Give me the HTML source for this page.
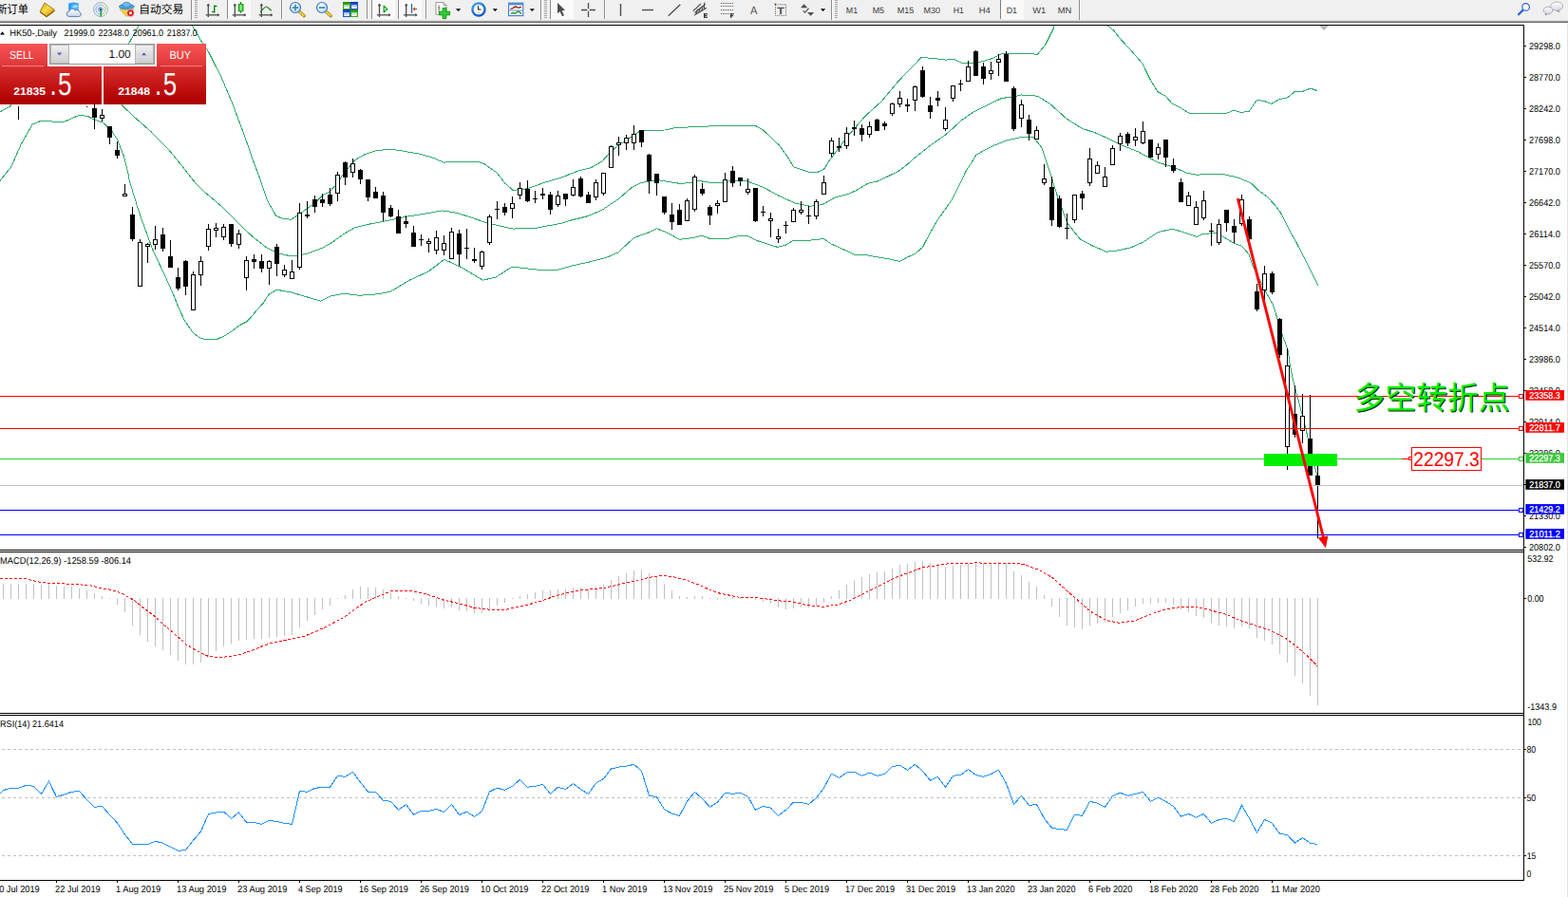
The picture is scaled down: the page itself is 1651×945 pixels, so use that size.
<!DOCTYPE html><html><head><meta charset="utf-8"><title>chart</title><style>html,body{margin:0;padding:0;background:#fff;overflow:hidden}svg{display:block}</style></head><body><svg width="1651" height="945" viewBox="0 0 1651 945" font-family="'Liberation Sans', sans-serif" text-rendering="geometricPrecision">
<defs><linearGradient id="gSell" x1="0" y1="0" x2="0" y2="1"><stop offset="0" stop-color="#f85656"/><stop offset="1" stop-color="#de3434"/></linearGradient><linearGradient id="gBig" x1="0" y1="0" x2="0" y2="1"><stop offset="0" stop-color="#d83030"/><stop offset="0.75" stop-color="#b80808"/><stop offset="1" stop-color="#ac0000"/></linearGradient><linearGradient id="gBtn" x1="0" y1="0" x2="0" y2="1"><stop offset="0" stop-color="#f2f2f2"/><stop offset="0.5" stop-color="#dcdcdc"/><stop offset="1" stop-color="#cfcfcf"/></linearGradient><linearGradient id="gTb" x1="0" y1="0" x2="0" y2="1"><stop offset="0" stop-color="#f0f0f0"/><stop offset="0.35" stop-color="#a0a0a0"/><stop offset="0.7" stop-color="#6a6a6a"/><stop offset="1" stop-color="#ffffff"/></linearGradient><clipPath id="cMain"><rect x="0" y="27" width="1604" height="552"/></clipPath></defs>
<rect x="0" y="0" width="1651" height="945" fill="#fff" />
<rect x="0" y="0" width="1651" height="22" fill="#f0f0f0" />
<g shape-rendering="crispEdges">
<rect x="0" y="21" width="1651" height="1" fill="#dedede" />
<rect x="0" y="22" width="1651" height="1" fill="#a2a2a2" />
<rect x="0" y="23" width="1651" height="1" fill="#6c6c6c" />
<rect x="0" y="24" width="1651" height="1" fill="#f6f6f6" />
<rect x="0" y="25" width="1651" height="1" fill="#fff" />
</g>
<text x="-3.6" y="14.4" font-size="12.2" fill="#000" textLength="33.6" lengthAdjust="spacingAndGlyphs" font-family="'Liberation Sans', 'Noto Sans CJK SC', sans-serif">新订单</text>
<defs><linearGradient id="gBook" x1="0" y1="0" x2="1" y2="1"><stop offset="0" stop-color="#c89020"/><stop offset="0.45" stop-color="#ffe040"/><stop offset="1" stop-color="#b07818"/></linearGradient><linearGradient id="gCloud" x1="0" y1="0" x2="0" y2="1"><stop offset="0" stop-color="#ffffff"/><stop offset="1" stop-color="#c8d4ec"/></linearGradient><radialGradient id="gLens" cx="0.4" cy="0.35" r="0.7"><stop offset="0" stop-color="#ffffff"/><stop offset="1" stop-color="#b8d8f4"/></radialGradient><linearGradient id="gCandle" x1="0" y1="0" x2="1" y2="0"><stop offset="0" stop-color="#18b818"/><stop offset="0.5" stop-color="#8cff8c"/><stop offset="1" stop-color="#18b818"/></linearGradient><radialGradient id="gClock" cx="0.4" cy="0.3" r="0.8"><stop offset="0" stop-color="#58b8ff"/><stop offset="1" stop-color="#0848b8"/></radialGradient><linearGradient id="gBub" x1="0" y1="0" x2="0" y2="1"><stop offset="0" stop-color="#ffffff"/><stop offset="1" stop-color="#d4d6ea"/></linearGradient></defs>
<path d="M47,3 L57.3,10.2 L56.8,12 L49,17.8 L42,12.2 Z" fill="url(#gBook)" stroke="#a06c14" stroke-width="0.8" stroke-linejoin="round"/>
<path d="M42.2,12.6 L49,17.6 L57.2,11.2" fill="none" stroke="#94600e" stroke-width="1.3" stroke-linejoin="round"/>
<path d="M72.2,3.4 L78,2.4 L82.6,3.6 L82.6,11.5 L72.2,11.5 Z" fill="#1e9cff"/>
<path d="M75.2,4.6 L82.6,3.6 L82.6,11.5 L75.2,11.5 Z" fill="#58b8ff"/>
<path d="M77,6.6 L81.6,6 L81.6,7.2 L77,7.8 Z" fill="#eaf6ff"/>
<path d="M72.6,17.4 a2.6,2.6 0 0 1 0.2,-5.2 a3.4,3.4 0 0 1 6.4,-1.2 a3,3 0 0 1 4.6,1.8 a2.4,2.4 0 0 1 -0.4,4.6 Z" fill="url(#gCloud)" stroke="#5474ac" stroke-width="0.9"/>
<g fill="none" stroke-width="0.9" opacity="0.75"><path d="M106,2.6 A7.4,7.4 0 0 0 106,17.4" stroke="#4f7fe0" opacity="0.9"/><path d="M106,5 A5,5 0 0 0 106,15" stroke="#4f7fe0" opacity="0.9"/><path d="M106,7.4 A2.6,2.6 0 0 0 106,12.6" stroke="#4f7fe0"/><path d="M106,2.6 A7.4,7.4 0 0 1 106,17.4" stroke="#5aa868" opacity="0.9"/><path d="M106,5 A5,5 0 0 1 106,15" stroke="#5aa868" opacity="0.8"/><path d="M106,7.4 A2.6,2.6 0 0 1 106,12.6" stroke="#5aa868" opacity="0.7"/></g>
<path d="M106,10 A7.4,7.4 0 0 1 106,17.4 Z" fill="#6ab878" opacity="0.55"/>
<path d="M106.3,10 V17.6" stroke="#18a028" stroke-width="1.5"/>
<circle cx="106" cy="9.8" r="1.6" fill="#2458d0"/>
<path d="M126,9.6 L140.8,9.6 L140,12 L133,17.4 Z" fill="#f2d23c" stroke="#c8a020" stroke-width="0.6"/>
<ellipse cx="133.3" cy="7" rx="7.9" ry="2.7" fill="#4aa0dc" stroke="#2878b8" stroke-width="0.7"/>
<ellipse cx="133.3" cy="5" rx="4" ry="2.8" fill="#6cb8ec" stroke="#2878b8" stroke-width="0.6"/>
<circle cx="137.4" cy="13.7" r="3.9" fill="#d81c10" stroke="#fff" stroke-width="0.6"/>
<rect x="136.1" y="12.4" width="2.7" height="2.7" fill="#fff" />
<text x="146.2" y="14.4" font-size="12.2" fill="#000" textLength="47.2" lengthAdjust="spacingAndGlyphs" font-family="'Liberation Sans', 'Noto Sans CJK SC', sans-serif">自动交易</text>
<rect x="201" y="0" width="1" height="22" fill="#8c8c8c" shape-rendering="crispEdges"/>
<rect x="202" y="0" width="1" height="22" fill="#fbfbfb" shape-rendering="crispEdges"/>
<g shape-rendering="crispEdges">
<rect x="205" y="0" width="3" height="1" fill="#a6a6a6" />
<rect x="205" y="2" width="3" height="1" fill="#a6a6a6" />
<rect x="205" y="4" width="3" height="1" fill="#a6a6a6" />
<rect x="205" y="6" width="3" height="1" fill="#a6a6a6" />
<rect x="205" y="8" width="3" height="1" fill="#a6a6a6" />
<rect x="205" y="10" width="3" height="1" fill="#a6a6a6" />
<rect x="205" y="12" width="3" height="1" fill="#a6a6a6" />
<rect x="205" y="14" width="3" height="1" fill="#a6a6a6" />
<rect x="205" y="16" width="3" height="1" fill="#a6a6a6" />
<rect x="205" y="18" width="3" height="1" fill="#a6a6a6" />
</g>
<g stroke="#4d4d4d" stroke-width="1.3" fill="none"><path d="M219.3,4.2 V18"/><path d="M216.70000000000002,15.8 H230.5"/></g>
<path d="M217.5,6.2 L219.3,3.6 L221.10000000000002,6.2 Z M228.9,14 L231.3,15.8 L228.9,17.6 Z" fill="#4d4d4d"/>
<path d="M225.7,5.4 V13.8 M225.7,6.5 H228.4 M223,12.4 H225.7" stroke="#0c8a0c" stroke-width="1.4" fill="none"/>
<rect x="239" y="0" width="1" height="20" fill="#8c8c8c" shape-rendering="crispEdges"/>
<rect x="240" y="0" width="1" height="20" fill="#fbfbfb" shape-rendering="crispEdges"/>
<rect x="241" y="0" width="23" height="20" fill="#f9f9f9" />
<g stroke="#4d4d4d" stroke-width="1.3" fill="none"><path d="M247.3,4.2 V18"/><path d="M244.70000000000002,15.8 H258.5"/></g>
<path d="M245.5,6.2 L247.3,3.6 L249.10000000000002,6.2 Z M256.90000000000003,14 L259.3,15.8 L256.90000000000003,17.6 Z" fill="#4d4d4d"/>
<path d="M253.5,2 V13.8" stroke="#0c8a0c" stroke-width="1.3"/>
<rect x="251.2" y="4.4" width="4.8" height="7.3" fill="url(#gCandle)" stroke="#0c8a0c" stroke-width="0.8"/>
<g stroke="#4d4d4d" stroke-width="1.3" fill="none"><path d="M275.3,4.2 V18"/><path d="M272.7,15.8 H286.5"/></g>
<path d="M273.5,6.2 L275.3,3.6 L277.1,6.2 Z M284.90000000000003,14 L287.3,15.8 L284.90000000000003,17.6 Z" fill="#4d4d4d"/>
<path d="M274,12.8 C277,10.5 278.4,7 280.2,7 C282,7 283.6,10 285.8,11.2" stroke="#1c8c1c" stroke-width="1.2" fill="none"/>
<rect x="296" y="0" width="1" height="20" fill="#8c8c8c" shape-rendering="crispEdges"/>
<rect x="297" y="0" width="1" height="20" fill="#fbfbfb" shape-rendering="crispEdges"/>
<path d="M315,12 L320.3,16.7" stroke="#a88414" stroke-width="3.4" stroke-linecap="round"/>
<path d="M315.2,12.2 L320.1,16.5" stroke="#f0d040" stroke-width="1.8" stroke-linecap="round"/>
<circle cx="311" cy="8" r="5.5" fill="url(#gLens)" stroke="#3c78d0" stroke-width="1.2"/>
<path d="M307.8,8 H314.2" stroke="#3c88ac" stroke-width="1.7"/>
<path d="M311,4.8 V11.2" stroke="#3c88ac" stroke-width="1.7"/>
<path d="M343,12 L348.3,16.7" stroke="#a88414" stroke-width="3.4" stroke-linecap="round"/>
<path d="M343.2,12.2 L348.1,16.5" stroke="#f0d040" stroke-width="1.8" stroke-linecap="round"/>
<circle cx="339" cy="8" r="5.5" fill="url(#gLens)" stroke="#3c78d0" stroke-width="1.2"/>
<path d="M335.8,8 H342.2" stroke="#3c88ac" stroke-width="1.7"/>
<rect x="361" y="2" width="8" height="8" fill="#3aa822" />
<rect x="361" y="2" width="8" height="1.6" fill="#2a8c18" />
<rect x="362.3" y="5.4" width="5.4" height="3.6" fill="#ffffff" />
<rect x="363.2" y="6.4" width="3.6" height="0.9" fill="#3aa822" opacity="0.55"/>
<rect x="369" y="2" width="8" height="8" fill="#2058d8" />
<rect x="369" y="2" width="8" height="1.6" fill="#1038a8" />
<rect x="370.3" y="5.4" width="5.4" height="3.6" fill="#ffffff" />
<rect x="371.2" y="6.4" width="3.6" height="0.9" fill="#2058d8" opacity="0.55"/>
<rect x="361" y="10" width="8" height="8" fill="#2058d8" />
<rect x="361" y="10" width="8" height="1.6" fill="#1038a8" />
<rect x="362.3" y="13.4" width="5.4" height="3.6" fill="#ffffff" />
<rect x="363.2" y="14.4" width="3.6" height="0.9" fill="#2058d8" opacity="0.55"/>
<rect x="369" y="10" width="8" height="8" fill="#3aa822" />
<rect x="369" y="10" width="8" height="1.6" fill="#2a8c18" />
<rect x="370.3" y="13.4" width="5.4" height="3.6" fill="#ffffff" />
<rect x="371.2" y="14.4" width="3.6" height="0.9" fill="#3aa822" opacity="0.55"/>
<rect x="386" y="0" width="1" height="20" fill="#8c8c8c" shape-rendering="crispEdges"/>
<rect x="387" y="0" width="1" height="20" fill="#fbfbfb" shape-rendering="crispEdges"/>
<rect x="391" y="0" width="1" height="20" fill="#8c8c8c" shape-rendering="crispEdges"/>
<rect x="392" y="0" width="1" height="20" fill="#fbfbfb" shape-rendering="crispEdges"/>
<rect x="393" y="0" width="23" height="20" fill="#f9f9f9" />
<g stroke="#4d4d4d" stroke-width="1.3" fill="none"><path d="M399.5,4.2 V18"/><path d="M396.9,15.8 H410.7"/></g>
<path d="M397.7,6.2 L399.5,3.6 L401.3,6.2 Z M409.1,14 L411.5,15.8 L409.1,17.6 Z" fill="#4d4d4d"/>
<path d="M404.1,6.2 L404.1,13 L407.9,9.6 Z" fill="#a8f0a8" stroke="#109a10" stroke-width="1.1" stroke-linejoin="round"/>
<rect x="419" y="0" width="1" height="20" fill="#8c8c8c" shape-rendering="crispEdges"/>
<rect x="420" y="0" width="1" height="20" fill="#fbfbfb" shape-rendering="crispEdges"/>
<rect x="421" y="0" width="23" height="20" fill="#f9f9f9" />
<g stroke="#4d4d4d" stroke-width="1.3" fill="none"><path d="M427.7,4.2 V18"/><path d="M425.09999999999997,15.8 H438.9"/></g>
<path d="M425.9,6.2 L427.7,3.6 L429.5,6.2 Z M437.3,14 L439.7,15.8 L437.3,17.6 Z" fill="#4d4d4d"/>
<path d="M433.5,4 V13.8" stroke="#1c6cb4" stroke-width="1.3"/>
<path d="M439.2,9.5 H435" stroke="#d84a10" stroke-width="1.2"/><path d="M434.3,9.5 L437.2,7.2 L436.6,9.5 L437.2,11.8 Z" fill="#d84a10"/>
<rect x="448" y="0" width="1" height="20" fill="#8c8c8c" shape-rendering="crispEdges"/>
<rect x="449" y="0" width="1" height="20" fill="#fbfbfb" shape-rendering="crispEdges"/>
<path d="M459,2.6 H467 L470,5.6 V15.2 H459 Z" fill="#fdfdfd" stroke="#8c8c8c" stroke-width="0.9"/>
<path d="M467,2.6 V5.6 H470" fill="none" stroke="#8c8c8c" stroke-width="0.8"/>
<path d="M462.2,5.4 V12.6 M461,8.2 H463.6" stroke="#707070" stroke-width="0.9" fill="none"/>
<path d="M466.2,8.4 H469.8 V12.2 H473.6 V15.8 H469.8 V19.6 H466.2 V15.8 H462.4 V12.2 H466.2 Z" fill="#2cd02c" stroke="#0c8c0c" stroke-width="0.9"/>
<polygon points="480,9.3 485.2,9.3 482.6,12.1" fill="#000"/>
<circle cx="504" cy="10" r="7.7" fill="url(#gClock)"/>
<circle cx="504" cy="10" r="5.3" fill="#f6f8fc"/>
<path d="M503.6,6.2 V10 H506.4" stroke="#202020" stroke-width="1.1" fill="none"/>
<circle cx="504" cy="13.4" r="0.7" fill="#60a8f0"/>
<polygon points="518.7,9.3 523.9000000000001,9.3 521.3000000000001,12.1" fill="#000"/>
<rect x="535.6" y="3.2" width="15.2" height="13.4" fill="#ffffff" stroke="#3c78c4" stroke-width="1.1"/>
<rect x="535.6" y="3.2" width="15.2" height="2.2" fill="#4c8cd8" />
<rect x="536.2" y="10.6" width="14" height="0.8" fill="#3c78c4" />
<path d="M537.4,9.4 L539.8,8.8 L541.6,7.4 L543.4,7 L545,8.2 L547,8 L549,7" stroke="#a01c0c" stroke-width="1.3" fill="none"/>
<path d="M538,14.4 L540,13.4 L542,14.2 L544,13 L545.6,11.8 L547.4,13 L549,14.4" stroke="#148c14" stroke-width="1.3" fill="none"/>
<polygon points="557.7,9.3 562.9000000000001,9.3 560.3000000000001,12.1" fill="#000"/>
<rect x="569" y="0" width="1" height="22" fill="#8c8c8c" shape-rendering="crispEdges"/>
<rect x="570" y="0" width="1" height="22" fill="#fbfbfb" shape-rendering="crispEdges"/>
<g shape-rendering="crispEdges">
<rect x="573" y="0" width="3" height="1" fill="#a6a6a6" />
<rect x="573" y="2" width="3" height="1" fill="#a6a6a6" />
<rect x="573" y="4" width="3" height="1" fill="#a6a6a6" />
<rect x="573" y="6" width="3" height="1" fill="#a6a6a6" />
<rect x="573" y="8" width="3" height="1" fill="#a6a6a6" />
<rect x="573" y="10" width="3" height="1" fill="#a6a6a6" />
<rect x="573" y="12" width="3" height="1" fill="#a6a6a6" />
<rect x="573" y="14" width="3" height="1" fill="#a6a6a6" />
<rect x="573" y="16" width="3" height="1" fill="#a6a6a6" />
<rect x="573" y="18" width="3" height="1" fill="#a6a6a6" />
</g>
<rect x="579" y="0" width="1" height="20" fill="#8c8c8c" shape-rendering="crispEdges"/>
<rect x="580" y="0" width="1" height="20" fill="#fbfbfb" shape-rendering="crispEdges"/>
<rect x="581" y="0" width="23" height="20" fill="#f9f9f9" />
<path d="M587,3 L587,14.2 L589.5,12 L592,17.2 L594,16.2 L591.6,11.2 L595,10.8 Z" fill="#4d4d4d"/>
<path d="M612,10.5 H618.3 M620.7,10.5 H627 M619.5,3 V9.3 M619.5,11.7 V18" stroke="#4d4d4d" stroke-width="1.3"/>
<rect x="636" y="0" width="1" height="20" fill="#8c8c8c" shape-rendering="crispEdges"/>
<rect x="637" y="0" width="1" height="20" fill="#fbfbfb" shape-rendering="crispEdges"/>
<path d="M653.5,4 V17" stroke="#4d4d4d" stroke-width="1.4"/>
<path d="M676,10.5 H688" stroke="#4d4d4d" stroke-width="1.4"/>
<path d="M703.7,16.7 L716.3,4.7" stroke="#4d4d4d" stroke-width="1.3"/>
<g stroke="#4d4d4d" stroke-width="1.1" fill="none"><path d="M729.7,11.7 L738,4"/><path d="M731,16 L744,8.3"/><path d="M731.5,13.5 L742.5,4.5"/><path d="M733,15 L734.5,9.5 M735.8,13.5 L737.3,8 M738.6,12 L740.1,6.5 M741.4,10 L741.8,2.5"/></g>
<rect x="741" y="14.2" width="1.3" height="4.6" fill="#303030" />
<rect x="741" y="14.2" width="4" height="1.1" fill="#303030" />
<rect x="741" y="15.95" width="3.4" height="1.1" fill="#303030" />
<rect x="741" y="17.7" width="4" height="1.1" fill="#303030" />
<g shape-rendering="crispEdges">
<rect x="759" y="3" width="1" height="1" fill="#505050" />
<rect x="761" y="3" width="1" height="1" fill="#505050" />
<rect x="763" y="3" width="1" height="1" fill="#505050" />
<rect x="765" y="3" width="1" height="1" fill="#505050" />
<rect x="767" y="3" width="1" height="1" fill="#505050" />
<rect x="769" y="3" width="1" height="1" fill="#505050" />
<rect x="771" y="3" width="1" height="1" fill="#505050" />
<rect x="759" y="6" width="1" height="1" fill="#505050" />
<rect x="761" y="6" width="1" height="1" fill="#505050" />
<rect x="763" y="6" width="1" height="1" fill="#505050" />
<rect x="765" y="6" width="1" height="1" fill="#505050" />
<rect x="767" y="6" width="1" height="1" fill="#505050" />
<rect x="769" y="6" width="1" height="1" fill="#505050" />
<rect x="771" y="6" width="1" height="1" fill="#505050" />
<rect x="759" y="10" width="1" height="1" fill="#505050" />
<rect x="761" y="10" width="1" height="1" fill="#505050" />
<rect x="763" y="10" width="1" height="1" fill="#505050" />
<rect x="765" y="10" width="1" height="1" fill="#505050" />
<rect x="767" y="10" width="1" height="1" fill="#505050" />
<rect x="769" y="10" width="1" height="1" fill="#505050" />
<rect x="771" y="10" width="1" height="1" fill="#505050" />
<rect x="759" y="14" width="1" height="1" fill="#505050" />
<rect x="761" y="14" width="1" height="1" fill="#505050" />
<rect x="763" y="14" width="1" height="1" fill="#505050" />
<rect x="765" y="14" width="1" height="1" fill="#505050" />
<rect x="767" y="14" width="1" height="1" fill="#505050" />
</g>
<rect x="769" y="14.2" width="1.3" height="4.6" fill="#303030" />
<rect x="769" y="14.2" width="3.8" height="1.1" fill="#303030" />
<rect x="769" y="16.1" width="3.1" height="1.1" fill="#303030" />
<text x="790" y="14.7" font-size="12" fill="#4d4d4d" textLength="7.4" lengthAdjust="spacingAndGlyphs" >A</text>
<rect x="816.5" y="4.8" width="11" height="11.6" fill="none" stroke="#505050" stroke-width="1" stroke-dasharray="1 1.2"/>
<rect x="815.4" y="3.6" width="1.8" height="1.2" fill="#505050" />
<text x="818.2" y="14.7" font-size="10.6" fill="#4d4d4d" textLength="7.6" lengthAdjust="spacingAndGlyphs" font-weight="bold" >T</text>
<path d="M843,8.3 L846.6,4.3 L850.2,8.3 Z M850,13 L857.2,13 L853.6,16.8 Z" fill="#4d4d4d"/>
<path d="M845.6,11.4 L847.6,13.2 L851.6,8.6" stroke="#4d4d4d" stroke-width="1.2" fill="none"/>
<polygon points="864,9.3 869.2,9.3 866.6,12.1" fill="#000"/>
<rect x="875" y="0" width="1" height="22" fill="#8c8c8c" shape-rendering="crispEdges"/>
<rect x="876" y="0" width="1" height="22" fill="#fbfbfb" shape-rendering="crispEdges"/>
<g shape-rendering="crispEdges">
<rect x="879" y="0" width="3" height="1" fill="#a6a6a6" />
<rect x="879" y="2" width="3" height="1" fill="#a6a6a6" />
<rect x="879" y="4" width="3" height="1" fill="#a6a6a6" />
<rect x="879" y="6" width="3" height="1" fill="#a6a6a6" />
<rect x="879" y="8" width="3" height="1" fill="#a6a6a6" />
<rect x="879" y="10" width="3" height="1" fill="#a6a6a6" />
<rect x="879" y="12" width="3" height="1" fill="#a6a6a6" />
<rect x="879" y="14" width="3" height="1" fill="#a6a6a6" />
<rect x="879" y="16" width="3" height="1" fill="#a6a6a6" />
<rect x="879" y="18" width="3" height="1" fill="#a6a6a6" />
</g>
<rect x="1053" y="0" width="1" height="20" fill="#808080" shape-rendering="crispEdges"/>
<rect x="1054" y="0" width="1" height="20" fill="#fbfbfb" shape-rendering="crispEdges"/>
<rect x="1054" y="0" width="24" height="20" fill="#f9f9f9" />
<text x="890.8" y="13.7" font-size="9" fill="#3c3c3c" textLength="12.3" lengthAdjust="spacingAndGlyphs" >M1</text>
<text x="918.7" y="13.7" font-size="9" fill="#3c3c3c" textLength="12.4" lengthAdjust="spacingAndGlyphs" >M5</text>
<text x="944.7" y="13.7" font-size="9" fill="#3c3c3c" textLength="17.5" lengthAdjust="spacingAndGlyphs" >M15</text>
<text x="972.6" y="13.7" font-size="9" fill="#3c3c3c" textLength="17.4" lengthAdjust="spacingAndGlyphs" >M30</text>
<text x="1003.7" y="13.7" font-size="9" fill="#3c3c3c" textLength="11.1" lengthAdjust="spacingAndGlyphs" >H1</text>
<text x="1030.7" y="13.7" font-size="9" fill="#3c3c3c" textLength="12.1" lengthAdjust="spacingAndGlyphs" >H4</text>
<text x="1059.7" y="13.7" font-size="9" fill="#3c3c3c" textLength="11.3" lengthAdjust="spacingAndGlyphs" >D1</text>
<text x="1087.3" y="13.7" font-size="9" fill="#3c3c3c" textLength="14.0" lengthAdjust="spacingAndGlyphs" >W1</text>
<text x="1113.7" y="13.7" font-size="9" fill="#3c3c3c" textLength="14.5" lengthAdjust="spacingAndGlyphs" >MN</text>
<rect x="1136" y="0" width="1" height="22" fill="#8c8c8c" shape-rendering="crispEdges"/>
<rect x="1137" y="0" width="1" height="22" fill="#fbfbfb" shape-rendering="crispEdges"/>
<path d="M1603.6,10.6 L1599,15.2" stroke="#2a62d0" stroke-width="2.3" stroke-linecap="round"/>
<circle cx="1606.6" cy="7.4" r="3.8" fill="#fafafa" stroke="#2a62d0" stroke-width="1.2"/>
<path d="M1627.4,14.2 L1627,16.6 L1630,14.8 Z" fill="#808080"/>
<path d="M1641,10.6 L1642.6,13.4 L1639,11.2 Z" fill="#707070"/>
<ellipse cx="1639.1" cy="6.6" rx="6.5" ry="4.6" fill="url(#gBub)" stroke="#a0a0a0" stroke-width="0.8"/>
<ellipse cx="1630" cy="11" rx="4.9" ry="3.8" fill="url(#gBub)" stroke="#a0a0a0" stroke-width="0.8"/>
<g shape-rendering="crispEdges">
<rect x="0" y="21" width="1651" height="1" fill="#dedede" />
<rect x="0" y="22" width="1651" height="1" fill="#a2a2a2" />
<rect x="0" y="23" width="1651" height="1" fill="#6c6c6c" />
<rect x="0" y="24" width="1651" height="1" fill="#f6f6f6" />
<rect x="0" y="25" width="1651" height="1" fill="#fff" />
</g>
<g shape-rendering="crispEdges">
<rect x="0" y="26" width="1605" height="1" fill="#000" />
<rect x="1604" y="26" width="1" height="902" fill="#000" />
<rect x="0" y="579" width="1605" height="1" fill="#000" />
<rect x="0" y="581" width="1605" height="1" fill="#000" />
<rect x="0" y="751" width="1605" height="1" fill="#000" />
<rect x="0" y="753" width="1605" height="1" fill="#000" />
<rect x="0" y="927" width="1605" height="1" fill="#000" />
<rect x="1650" y="24" width="1" height="921" fill="#e3e3e3" />
</g>
<g clip-path="url(#cMain)">
<polyline points="130.0,56.0 136.7,44.0 146.2,26.9 147.0,25.0" fill="none" stroke="#2fab6b" stroke-width="1" shape-rendering="crispEdges"/>
<polyline points="201.3,25.0 202.4,26.9 212.3,44.0 219.5,54.5 232.9,81.1 244.3,107.8 255.7,138.3 267.1,170.7 274.3,190.0 281.1,210.4 290.5,227.3 298.0,230.5 306.6,231.2 315.0,225.6 332.0,213.7 340.0,205.5 347.3,201.9 350.2,198.2 355.8,193.4 360.4,184.6 373.9,168.5 384.1,162.6 396.0,158.8 411.2,157.0 424.8,159.2 441.8,162.2 455.3,166.0 467.2,171.1 480.8,170.2 502.8,170.2 509.6,172.4 523.2,182.1 531.7,193.1 540.1,200.4 555.4,198.7 572.4,192.6 594.4,186.0 600.0,183.3 610.2,179.7 622.0,176.8 633.9,170.0 642.4,160.7 650.9,153.1 662.8,145.4 672.9,138.7 678.0,137.5 700.1,137.0 711.9,134.4 735.7,133.6 761.1,132.2 795.0,132.2 803.5,137.0 820.5,153.1 829.0,164.9 835.8,176.0 851.0,181.1 861.2,181.1 867.6,178.3 872.7,170.0 877.0,164.0 893.9,141.9 910.9,122.4 927.8,107.2 944.8,86.8 958.4,72.4 970.2,60.5 982.1,61.4 995.7,63.1 1004.2,62.2 1012.6,66.1 1029.6,66.1 1043.2,62.2 1055.0,56.6 1072.0,56.6 1092.4,57.1 1100.8,47.0 1109.3,30.0 1110.0,26.7 1110.6,25.0" fill="none" stroke="#2fab6b" stroke-width="1" shape-rendering="crispEdges"/>
<polyline points="1165.2,25.0 1166.3,26.7 1172.7,32.2 1180.0,41.3 1190.9,53.1 1202.7,66.7 1210.8,83.1 1219.0,96.7 1227.2,101.2 1234.5,109.4 1243.6,113.9 1251.7,119.0 1263.5,119.8 1285.4,119.9 1292.6,118.9 1299.0,116.3 1307.2,118.5 1315.3,117.2 1323.5,105.2 1331.7,106.7 1339.0,109.4 1347.1,104.5 1355.3,103.0 1363.5,96.3 1371.7,96.3 1379.8,93.1 1386.8,95.4" fill="none" stroke="#2fab6b" stroke-width="1" shape-rendering="crispEdges"/>
<polyline points="0.0,117.8 10.4,112.3 20.0,100.0 60.0,90.0 100.0,90.0 126.0,108.0 130.0,112.6 143.3,125.0 158.6,138.3 175.7,155.4 192.9,176.4 206.2,193.5 215.0,201.9 232.0,216.3 248.9,233.2 265.9,249.4 281.1,261.2 291.3,266.3 306.6,270.0 323.5,267.2 340.0,261.0 350.2,255.0 362.0,246.5 373.9,239.7 387.5,236.4 407.8,232.5 428.2,228.2 448.5,225.0 465.5,221.9 479.1,224.0 492.6,227.9 509.6,233.8 526.6,238.1 540.1,241.1 565.6,240.1 591.0,235.2 600.0,232.4 618.7,227.7 633.9,221.3 650.9,209.9 664.5,198.0 674.6,192.6 691.6,189.5 715.3,193.3 728.9,192.6 735.7,190.4 749.3,192.6 761.1,192.6 769.6,190.4 786.6,190.9 803.5,197.2 820.5,206.5 837.5,214.1 852.7,217.2 861.9,216.3 867.6,214.7 879.0,208.1 891.7,204.9 900.6,201.1 913.3,193.5 923.5,191.0 936.2,185.2 946.3,180.2 954.0,174.4 961.8,167.4 978.7,153.8 995.7,141.9 1012.6,126.7 1024.5,118.2 1039.8,110.6 1055.0,103.3 1063.5,102.6 1075.4,100.0 1092.4,101.2 1105.9,109.7 1122.9,125.0 1139.4,135.4 1152.9,139.7 1168.2,146.5 1181.8,153.2 1198.7,160.0 1219.1,171.1 1236.0,176.1 1249.6,182.1 1259.8,184.1 1286.9,183.3 1303.9,187.2 1317.5,193.1 1324.4,200.0 1334.4,207.5 1341.4,214.8 1348.0,223.6 1354.1,234.9 1359.9,246.5 1364.7,255.0 1375.2,275.1 1387.9,300.5" fill="none" stroke="#2fab6b" stroke-width="1" shape-rendering="crispEdges"/>
<polyline points="0.0,190.4 11.9,175.6 22.2,151.9 34.1,131.1 43.0,127.4 56.3,128.1 68.1,128.1 83.0,121.5 91.9,122.2 100.7,126.7 108.1,128.9 117.0,137.0 123.7,147.4 130.4,164.5 134.8,182.0 136.1,190.0 147.1,225.6 160.7,262.9 174.3,291.8 182.4,310.0 188.2,324.5 194.7,338.3 203.4,350.7 211.4,356.5 216.5,357.6 228.1,357.6 236.9,353.6 245.6,347.8 252.1,342.7 259.4,339.1 263.8,334.7 271.7,325.3 277.6,318.7 282.8,310.4 291.3,305.3 306.6,307.9 323.5,313.0 338.0,317.2 347.3,312.1 362.5,309.2 377.8,311.3 399.9,309.6 411.9,306.8 430.5,295.5 450.9,286.1 467.8,273.4 484.8,281.1 508.5,295.1 522.1,292.1 539.1,281.1 569.6,284.5 586.6,284.5 603.5,279.7 620.5,276.0 637.5,271.7 650.9,265.9 667.8,250.3 681.4,245.5 691.6,240.9 701.8,244.7 715.3,252.3 728.9,250.6 739.1,248.4 747.6,251.4 766.2,251.4 778.1,248.4 786.6,248.4 798.4,254.0 818.8,260.4 827.3,258.2 835.8,253.1 852.7,253.1 860.0,252.5 867.0,251.3 875.2,257.0 887.9,262.7 899.4,268.2 910.8,268.4 921.0,270.3 934.9,272.6 947.6,275.4 955.2,271.0 963.5,267.5 971.7,260.2 978.1,247.5 987.0,232.2 994.6,221.4 1002.2,210.6 1009.8,195.4 1017.5,179.5 1023.8,170.0 1027.9,163.1 1043.2,154.7 1060.1,147.9 1075.4,144.5 1080.0,144.4 1088.5,144.8 1097.0,155.8 1105.4,181.2 1113.9,208.4 1124.1,235.5 1137.7,252.5 1151.2,259.3 1164.8,265.2 1175.0,264.3 1190.2,261.0 1203.8,255.0 1219.1,244.8 1234.3,241.1 1246.2,244.8 1259.8,249.4 1266.6,246.5 1280.0,245.5 1288.5,249.7 1299.0,256.1 1307.5,259.3 1314.9,267.7 1319.2,280.4 1332.9,307.9 1340.3,320.6 1345.6,337.6 1350.9,354.5 1356.2,369.3 1358.0,383.0 1361.5,400.0 1365.0,413.9 1373.5,445.6 1379.8,473.1 1386.6,500.6" fill="none" stroke="#2fab6b" stroke-width="1" shape-rendering="crispEdges"/>
</g>
<g shape-rendering="crispEdges">
<rect x="19" y="112" width="1" height="14" fill="#000" />
<rect x="91" y="112" width="1" height="1" fill="#000" />
<rect x="99" y="108" width="1" height="28" fill="#000" />
<rect x="97" y="114" width="5" height="10" fill="#000" />
<rect x="107" y="115" width="1" height="13" fill="#000" />
<rect x="105" y="121" width="5" height="4" fill="#000" />
<rect x="106" y="122" width="3" height="2" fill="#fff" />
<rect x="115" y="133" width="1" height="19" fill="#000" />
<rect x="113" y="133" width="5" height="12" fill="#000" />
<rect x="123" y="149" width="1" height="18" fill="#000" />
<rect x="121" y="158" width="5" height="6" fill="#000" />
<rect x="131" y="194" width="1" height="13" fill="#000" />
<rect x="129" y="204" width="5" height="2" fill="#000" />
<rect x="129" y="204" width="5" height="3" fill="#000" />
<rect x="130" y="205" width="3" height="1" fill="#fff" />
<rect x="139" y="218" width="1" height="36" fill="#000" />
<rect x="137" y="226" width="5" height="26" fill="#000" />
<rect x="147" y="252" width="1" height="50" fill="#000" />
<rect x="145" y="255" width="5" height="47" fill="#000" />
<rect x="146" y="256" width="3" height="45" fill="#fff" />
<rect x="155" y="256" width="1" height="21" fill="#000" />
<rect x="153" y="257" width="5" height="2" fill="#000" />
<rect x="153" y="257" width="5" height="3" fill="#000" />
<rect x="154" y="258" width="3" height="1" fill="#fff" />
<rect x="163" y="238" width="1" height="25" fill="#000" />
<rect x="161" y="252" width="5" height="6" fill="#000" />
<rect x="162" y="253" width="3" height="4" fill="#fff" />
<rect x="171" y="240" width="1" height="25" fill="#000" />
<rect x="169" y="247" width="5" height="15" fill="#000" />
<rect x="179" y="253" width="1" height="29" fill="#000" />
<rect x="177" y="270" width="5" height="12" fill="#000" />
<rect x="187" y="282" width="1" height="24" fill="#000" />
<rect x="185" y="292" width="5" height="12" fill="#000" />
<rect x="195" y="274" width="1" height="37" fill="#000" />
<rect x="193" y="275" width="5" height="27" fill="#000" />
<rect x="203" y="286" width="1" height="41" fill="#000" />
<rect x="201" y="289" width="5" height="38" fill="#000" />
<rect x="202" y="290" width="3" height="36" fill="#fff" />
<rect x="211" y="270" width="1" height="31" fill="#000" />
<rect x="209" y="275" width="5" height="15" fill="#000" />
<rect x="210" y="276" width="3" height="13" fill="#fff" />
<rect x="219" y="236" width="1" height="28" fill="#000" />
<rect x="217" y="241" width="5" height="19" fill="#000" />
<rect x="218" y="242" width="3" height="17" fill="#fff" />
<rect x="227" y="235" width="1" height="15" fill="#000" />
<rect x="225" y="240" width="5" height="3" fill="#000" />
<rect x="226" y="241" width="3" height="1" fill="#fff" />
<rect x="235" y="236" width="1" height="17" fill="#000" />
<rect x="233" y="239" width="5" height="11" fill="#000" />
<rect x="234" y="240" width="3" height="9" fill="#fff" />
<rect x="243" y="236" width="1" height="24" fill="#000" />
<rect x="241" y="236" width="5" height="21" fill="#000" />
<rect x="251" y="242" width="1" height="20" fill="#000" />
<rect x="249" y="246" width="5" height="12" fill="#000" />
<rect x="250" y="247" width="3" height="10" fill="#fff" />
<rect x="259" y="270" width="1" height="36" fill="#000" />
<rect x="257" y="274" width="5" height="19" fill="#000" />
<rect x="258" y="275" width="3" height="17" fill="#fff" />
<rect x="267" y="268" width="1" height="15" fill="#000" />
<rect x="265" y="273" width="5" height="3" fill="#000" />
<rect x="275" y="268" width="1" height="19" fill="#000" />
<rect x="273" y="275" width="5" height="8" fill="#000" />
<rect x="283" y="274" width="1" height="26" fill="#000" />
<rect x="281" y="275" width="5" height="8" fill="#000" />
<rect x="282" y="276" width="3" height="6" fill="#fff" />
<rect x="291" y="257" width="1" height="34" fill="#000" />
<rect x="289" y="260" width="5" height="18" fill="#000" />
<rect x="299" y="279" width="1" height="13" fill="#000" />
<rect x="297" y="284" width="5" height="6" fill="#000" />
<rect x="298" y="285" width="3" height="4" fill="#fff" />
<rect x="307" y="274" width="1" height="20" fill="#000" />
<rect x="305" y="286" width="5" height="8" fill="#000" />
<rect x="306" y="287" width="3" height="6" fill="#fff" />
<rect x="315" y="214" width="1" height="70" fill="#000" />
<rect x="313" y="224" width="5" height="58" fill="#000" />
<rect x="314" y="225" width="3" height="56" fill="#fff" />
<rect x="323" y="212" width="1" height="18" fill="#000" />
<rect x="321" y="226" width="5" height="2" fill="#000" />
<rect x="331" y="206" width="1" height="18" fill="#000" />
<rect x="329" y="210" width="5" height="8" fill="#000" />
<rect x="339" y="204" width="1" height="14" fill="#000" />
<rect x="337" y="210" width="5" height="4" fill="#000" />
<rect x="347" y="198" width="1" height="19" fill="#000" />
<rect x="345" y="205" width="5" height="10" fill="#000" />
<rect x="355" y="181" width="1" height="31" fill="#000" />
<rect x="353" y="184" width="5" height="20" fill="#000" />
<rect x="354" y="185" width="3" height="18" fill="#fff" />
<rect x="363" y="170" width="1" height="25" fill="#000" />
<rect x="361" y="171" width="5" height="16" fill="#000" />
<rect x="371" y="167" width="1" height="20" fill="#000" />
<rect x="369" y="172" width="5" height="10" fill="#000" />
<rect x="370" y="173" width="3" height="8" fill="#fff" />
<rect x="379" y="178" width="1" height="16" fill="#000" />
<rect x="377" y="179" width="5" height="10" fill="#000" />
<rect x="387" y="189" width="1" height="23" fill="#000" />
<rect x="385" y="189" width="5" height="19" fill="#000" />
<rect x="395" y="197" width="1" height="12" fill="#000" />
<rect x="393" y="202" width="5" height="7" fill="#000" />
<rect x="403" y="202" width="1" height="31" fill="#000" />
<rect x="401" y="206" width="5" height="18" fill="#000" />
<rect x="411" y="216" width="1" height="13" fill="#000" />
<rect x="409" y="219" width="5" height="9" fill="#000" />
<rect x="419" y="221" width="1" height="25" fill="#000" />
<rect x="417" y="228" width="5" height="18" fill="#000" />
<rect x="427" y="227" width="1" height="13" fill="#000" />
<rect x="425" y="233" width="5" height="3" fill="#000" />
<rect x="435" y="238" width="1" height="22" fill="#000" />
<rect x="433" y="245" width="5" height="15" fill="#000" />
<rect x="443" y="247" width="1" height="12" fill="#000" />
<rect x="441" y="252" width="5" height="1" fill="#000" />
<rect x="451" y="251" width="1" height="15" fill="#000" />
<rect x="449" y="254" width="5" height="3" fill="#000" />
<rect x="450" y="255" width="3" height="1" fill="#fff" />
<rect x="459" y="243" width="1" height="25" fill="#000" />
<rect x="457" y="250" width="5" height="14" fill="#000" />
<rect x="458" y="251" width="3" height="12" fill="#fff" />
<rect x="467" y="248" width="1" height="21" fill="#000" />
<rect x="465" y="256" width="5" height="8" fill="#000" />
<rect x="466" y="257" width="3" height="6" fill="#fff" />
<rect x="475" y="240" width="1" height="33" fill="#000" />
<rect x="473" y="244" width="5" height="29" fill="#000" />
<rect x="474" y="245" width="3" height="27" fill="#fff" />
<rect x="483" y="242" width="1" height="38" fill="#000" />
<rect x="481" y="246" width="5" height="22" fill="#000" />
<rect x="491" y="241" width="1" height="32" fill="#000" />
<rect x="489" y="261" width="5" height="1" fill="#000" />
<rect x="499" y="261" width="1" height="16" fill="#000" />
<rect x="497" y="273" width="5" height="2" fill="#000" />
<rect x="507" y="264" width="1" height="20" fill="#000" />
<rect x="505" y="265" width="5" height="16" fill="#000" />
<rect x="506" y="266" width="3" height="14" fill="#fff" />
<rect x="515" y="226" width="1" height="32" fill="#000" />
<rect x="513" y="228" width="5" height="28" fill="#000" />
<rect x="514" y="229" width="3" height="26" fill="#fff" />
<rect x="523" y="212" width="1" height="19" fill="#000" />
<rect x="521" y="220" width="5" height="1" fill="#000" />
<rect x="531" y="214" width="1" height="13" fill="#000" />
<rect x="529" y="218" width="5" height="6" fill="#000" />
<rect x="539" y="207" width="1" height="23" fill="#000" />
<rect x="537" y="214" width="5" height="6" fill="#000" />
<rect x="538" y="215" width="3" height="4" fill="#fff" />
<rect x="547" y="192" width="1" height="18" fill="#000" />
<rect x="545" y="198" width="5" height="8" fill="#000" />
<rect x="546" y="199" width="3" height="6" fill="#fff" />
<rect x="555" y="190" width="1" height="23" fill="#000" />
<rect x="553" y="199" width="5" height="13" fill="#000" />
<rect x="563" y="201" width="1" height="13" fill="#000" />
<rect x="561" y="209" width="5" height="1" fill="#000" />
<rect x="571" y="198" width="1" height="12" fill="#000" />
<rect x="569" y="204" width="5" height="2" fill="#000" />
<rect x="579" y="202" width="1" height="24" fill="#000" />
<rect x="577" y="205" width="5" height="16" fill="#000" />
<rect x="587" y="201" width="1" height="17" fill="#000" />
<rect x="585" y="206" width="5" height="10" fill="#000" />
<rect x="586" y="207" width="3" height="8" fill="#fff" />
<rect x="595" y="204" width="1" height="13" fill="#000" />
<rect x="593" y="204" width="5" height="6" fill="#000" />
<rect x="603" y="189" width="1" height="18" fill="#000" />
<rect x="601" y="197" width="5" height="9" fill="#000" />
<rect x="602" y="198" width="3" height="7" fill="#fff" />
<rect x="611" y="186" width="1" height="22" fill="#000" />
<rect x="609" y="188" width="5" height="19" fill="#000" />
<rect x="619" y="202" width="1" height="12" fill="#000" />
<rect x="617" y="205" width="5" height="9" fill="#000" />
<rect x="627" y="189" width="1" height="22" fill="#000" />
<rect x="625" y="192" width="5" height="16" fill="#000" />
<rect x="626" y="193" width="3" height="14" fill="#fff" />
<rect x="635" y="182" width="1" height="24" fill="#000" />
<rect x="633" y="182" width="5" height="22" fill="#000" />
<rect x="634" y="183" width="3" height="20" fill="#fff" />
<rect x="643" y="153" width="1" height="24" fill="#000" />
<rect x="641" y="154" width="5" height="23" fill="#000" />
<rect x="642" y="155" width="3" height="21" fill="#fff" />
<rect x="651" y="144" width="1" height="20" fill="#000" />
<rect x="649" y="150" width="5" height="2" fill="#000" />
<rect x="649" y="150" width="5" height="3" fill="#000" />
<rect x="650" y="151" width="3" height="1" fill="#fff" />
<rect x="659" y="142" width="1" height="16" fill="#000" />
<rect x="657" y="145" width="5" height="6" fill="#000" />
<rect x="658" y="146" width="3" height="4" fill="#fff" />
<rect x="667" y="132" width="1" height="26" fill="#000" />
<rect x="665" y="141" width="5" height="10" fill="#000" />
<rect x="666" y="142" width="3" height="8" fill="#fff" />
<rect x="675" y="137" width="1" height="18" fill="#000" />
<rect x="673" y="137" width="5" height="13" fill="#000" />
<rect x="683" y="162" width="1" height="42" fill="#000" />
<rect x="681" y="163" width="5" height="28" fill="#000" />
<rect x="691" y="183" width="1" height="23" fill="#000" />
<rect x="689" y="183" width="5" height="10" fill="#000" />
<rect x="699" y="207" width="1" height="19" fill="#000" />
<rect x="697" y="207" width="5" height="17" fill="#000" />
<rect x="707" y="214" width="1" height="28" fill="#000" />
<rect x="705" y="226" width="5" height="8" fill="#000" />
<rect x="715" y="215" width="1" height="22" fill="#000" />
<rect x="713" y="221" width="5" height="16" fill="#000" />
<rect x="723" y="209" width="1" height="24" fill="#000" />
<rect x="721" y="211" width="5" height="22" fill="#000" />
<rect x="722" y="212" width="3" height="20" fill="#fff" />
<rect x="731" y="184" width="1" height="39" fill="#000" />
<rect x="729" y="186" width="5" height="35" fill="#000" />
<rect x="730" y="187" width="3" height="33" fill="#fff" />
<rect x="739" y="193" width="1" height="13" fill="#000" />
<rect x="737" y="199" width="5" height="5" fill="#000" />
<rect x="747" y="216" width="1" height="21" fill="#000" />
<rect x="745" y="218" width="5" height="9" fill="#000" />
<rect x="755" y="211" width="1" height="14" fill="#000" />
<rect x="753" y="214" width="5" height="3" fill="#000" />
<rect x="754" y="215" width="3" height="1" fill="#fff" />
<rect x="763" y="182" width="1" height="31" fill="#000" />
<rect x="761" y="189" width="5" height="24" fill="#000" />
<rect x="762" y="190" width="3" height="22" fill="#fff" />
<rect x="771" y="175" width="1" height="22" fill="#000" />
<rect x="769" y="180" width="5" height="13" fill="#000" />
<rect x="779" y="187" width="1" height="9" fill="#000" />
<rect x="777" y="187" width="5" height="4" fill="#000" />
<rect x="787" y="188" width="1" height="17" fill="#000" />
<rect x="785" y="199" width="5" height="4" fill="#000" />
<rect x="786" y="200" width="3" height="2" fill="#fff" />
<rect x="795" y="198" width="1" height="36" fill="#000" />
<rect x="793" y="198" width="5" height="35" fill="#000" />
<rect x="803" y="217" width="1" height="11" fill="#000" />
<rect x="801" y="223" width="5" height="1" fill="#000" />
<rect x="811" y="224" width="1" height="26" fill="#000" />
<rect x="809" y="230" width="5" height="3" fill="#000" />
<rect x="810" y="231" width="3" height="1" fill="#fff" />
<rect x="819" y="241" width="1" height="15" fill="#000" />
<rect x="817" y="249" width="5" height="3" fill="#000" />
<rect x="818" y="250" width="3" height="1" fill="#fff" />
<rect x="827" y="233" width="1" height="13" fill="#000" />
<rect x="825" y="237" width="5" height="1" fill="#000" />
<rect x="835" y="219" width="1" height="15" fill="#000" />
<rect x="833" y="221" width="5" height="13" fill="#000" />
<rect x="834" y="222" width="3" height="11" fill="#fff" />
<rect x="843" y="212" width="1" height="14" fill="#000" />
<rect x="841" y="221" width="5" height="3" fill="#000" />
<rect x="842" y="222" width="3" height="1" fill="#fff" />
<rect x="851" y="217" width="1" height="19" fill="#000" />
<rect x="849" y="227" width="5" height="1" fill="#000" />
<rect x="859" y="210" width="1" height="21" fill="#000" />
<rect x="857" y="212" width="5" height="16" fill="#000" />
<rect x="858" y="213" width="3" height="14" fill="#fff" />
<rect x="867" y="185" width="1" height="20" fill="#000" />
<rect x="865" y="192" width="5" height="13" fill="#000" />
<rect x="866" y="193" width="3" height="11" fill="#fff" />
<rect x="875" y="145" width="1" height="20" fill="#000" />
<rect x="873" y="148" width="5" height="14" fill="#000" />
<rect x="874" y="149" width="3" height="12" fill="#fff" />
<rect x="883" y="145" width="1" height="15" fill="#000" />
<rect x="881" y="154" width="5" height="2" fill="#000" />
<rect x="891" y="134" width="1" height="23" fill="#000" />
<rect x="889" y="140" width="5" height="14" fill="#000" />
<rect x="890" y="141" width="3" height="12" fill="#fff" />
<rect x="899" y="127" width="1" height="16" fill="#000" />
<rect x="897" y="134" width="5" height="2" fill="#000" />
<rect x="907" y="131" width="1" height="18" fill="#000" />
<rect x="905" y="135" width="5" height="7" fill="#000" />
<rect x="915" y="128" width="1" height="17" fill="#000" />
<rect x="913" y="133" width="5" height="9" fill="#000" />
<rect x="914" y="134" width="3" height="7" fill="#fff" />
<rect x="923" y="125" width="1" height="13" fill="#000" />
<rect x="921" y="126" width="5" height="12" fill="#000" />
<rect x="931" y="128" width="1" height="9" fill="#000" />
<rect x="929" y="130" width="5" height="3" fill="#000" />
<rect x="939" y="108" width="1" height="14" fill="#000" />
<rect x="937" y="109" width="5" height="11" fill="#000" />
<rect x="938" y="110" width="3" height="9" fill="#fff" />
<rect x="947" y="96" width="1" height="17" fill="#000" />
<rect x="945" y="103" width="5" height="7" fill="#000" />
<rect x="946" y="104" width="3" height="5" fill="#fff" />
<rect x="955" y="104" width="1" height="14" fill="#000" />
<rect x="953" y="110" width="5" height="2" fill="#000" />
<rect x="963" y="90" width="1" height="27" fill="#000" />
<rect x="961" y="91" width="5" height="15" fill="#000" />
<rect x="962" y="92" width="3" height="13" fill="#fff" />
<rect x="971" y="70" width="1" height="33" fill="#000" />
<rect x="969" y="74" width="5" height="28" fill="#000" />
<rect x="979" y="102" width="1" height="23" fill="#000" />
<rect x="977" y="111" width="5" height="7" fill="#000" />
<rect x="987" y="96" width="1" height="16" fill="#000" />
<rect x="985" y="103" width="5" height="3" fill="#000" />
<rect x="995" y="113" width="1" height="25" fill="#000" />
<rect x="993" y="126" width="5" height="10" fill="#000" />
<rect x="994" y="127" width="3" height="8" fill="#fff" />
<rect x="1003" y="90" width="1" height="17" fill="#000" />
<rect x="1001" y="90" width="5" height="14" fill="#000" />
<rect x="1002" y="91" width="3" height="12" fill="#fff" />
<rect x="1011" y="84" width="1" height="12" fill="#000" />
<rect x="1009" y="88" width="5" height="1" fill="#000" />
<rect x="1019" y="64" width="1" height="22" fill="#000" />
<rect x="1017" y="70" width="5" height="16" fill="#000" />
<rect x="1018" y="71" width="3" height="14" fill="#fff" />
<rect x="1027" y="53" width="1" height="27" fill="#000" />
<rect x="1025" y="54" width="5" height="26" fill="#000" />
<rect x="1035" y="66" width="1" height="23" fill="#000" />
<rect x="1033" y="70" width="5" height="13" fill="#000" />
<rect x="1043" y="65" width="1" height="19" fill="#000" />
<rect x="1041" y="74" width="5" height="4" fill="#000" />
<rect x="1042" y="75" width="3" height="2" fill="#fff" />
<rect x="1051" y="57" width="1" height="23" fill="#000" />
<rect x="1049" y="62" width="5" height="4" fill="#000" />
<rect x="1050" y="63" width="3" height="2" fill="#fff" />
<rect x="1059" y="54" width="1" height="32" fill="#000" />
<rect x="1057" y="57" width="5" height="29" fill="#000" />
<rect x="1067" y="91" width="1" height="47" fill="#000" />
<rect x="1065" y="93" width="5" height="43" fill="#000" />
<rect x="1075" y="105" width="1" height="29" fill="#000" />
<rect x="1073" y="110" width="5" height="15" fill="#000" />
<rect x="1074" y="111" width="3" height="13" fill="#fff" />
<rect x="1083" y="121" width="1" height="27" fill="#000" />
<rect x="1081" y="126" width="5" height="15" fill="#000" />
<rect x="1091" y="133" width="1" height="14" fill="#000" />
<rect x="1089" y="137" width="5" height="10" fill="#000" />
<rect x="1090" y="138" width="3" height="8" fill="#fff" />
<rect x="1099" y="173" width="1" height="22" fill="#000" />
<rect x="1097" y="188" width="5" height="5" fill="#000" />
<rect x="1098" y="189" width="3" height="3" fill="#fff" />
<rect x="1107" y="186" width="1" height="52" fill="#000" />
<rect x="1105" y="197" width="5" height="35" fill="#000" />
<rect x="1115" y="206" width="1" height="34" fill="#000" />
<rect x="1113" y="209" width="5" height="30" fill="#000" />
<rect x="1123" y="225" width="1" height="27" fill="#000" />
<rect x="1121" y="240" width="5" height="1" fill="#000" />
<rect x="1131" y="205" width="1" height="30" fill="#000" />
<rect x="1129" y="205" width="5" height="27" fill="#000" />
<rect x="1130" y="206" width="3" height="25" fill="#fff" />
<rect x="1139" y="201" width="1" height="20" fill="#000" />
<rect x="1137" y="204" width="5" height="5" fill="#000" />
<rect x="1147" y="156" width="1" height="40" fill="#000" />
<rect x="1145" y="167" width="5" height="26" fill="#000" />
<rect x="1146" y="168" width="3" height="24" fill="#fff" />
<rect x="1155" y="170" width="1" height="13" fill="#000" />
<rect x="1153" y="174" width="5" height="9" fill="#000" />
<rect x="1154" y="175" width="3" height="7" fill="#fff" />
<rect x="1163" y="176" width="1" height="21" fill="#000" />
<rect x="1161" y="186" width="5" height="11" fill="#000" />
<rect x="1162" y="187" width="3" height="9" fill="#fff" />
<rect x="1171" y="153" width="1" height="21" fill="#000" />
<rect x="1169" y="156" width="5" height="18" fill="#000" />
<rect x="1170" y="157" width="3" height="16" fill="#fff" />
<rect x="1179" y="140" width="1" height="19" fill="#000" />
<rect x="1177" y="143" width="5" height="9" fill="#000" />
<rect x="1178" y="144" width="3" height="7" fill="#fff" />
<rect x="1187" y="139" width="1" height="15" fill="#000" />
<rect x="1185" y="141" width="5" height="10" fill="#000" />
<rect x="1195" y="135" width="1" height="19" fill="#000" />
<rect x="1193" y="144" width="5" height="4" fill="#000" />
<rect x="1194" y="145" width="3" height="2" fill="#fff" />
<rect x="1203" y="128" width="1" height="24" fill="#000" />
<rect x="1201" y="138" width="5" height="13" fill="#000" />
<rect x="1202" y="139" width="3" height="11" fill="#fff" />
<rect x="1211" y="147" width="1" height="19" fill="#000" />
<rect x="1209" y="147" width="5" height="19" fill="#000" />
<rect x="1219" y="151" width="1" height="17" fill="#000" />
<rect x="1217" y="155" width="5" height="8" fill="#000" />
<rect x="1218" y="156" width="3" height="6" fill="#fff" />
<rect x="1227" y="147" width="1" height="29" fill="#000" />
<rect x="1225" y="147" width="5" height="19" fill="#000" />
<rect x="1235" y="167" width="1" height="15" fill="#000" />
<rect x="1233" y="174" width="5" height="6" fill="#000" />
<rect x="1243" y="188" width="1" height="25" fill="#000" />
<rect x="1241" y="192" width="5" height="21" fill="#000" />
<rect x="1251" y="202" width="1" height="15" fill="#000" />
<rect x="1249" y="206" width="5" height="11" fill="#000" />
<rect x="1250" y="207" width="3" height="9" fill="#fff" />
<rect x="1259" y="212" width="1" height="25" fill="#000" />
<rect x="1257" y="218" width="5" height="19" fill="#000" />
<rect x="1258" y="219" width="3" height="17" fill="#fff" />
<rect x="1267" y="201" width="1" height="31" fill="#000" />
<rect x="1265" y="211" width="5" height="19" fill="#000" />
<rect x="1266" y="212" width="3" height="17" fill="#fff" />
<rect x="1275" y="235" width="1" height="24" fill="#000" />
<rect x="1273" y="243" width="5" height="1" fill="#000" />
<rect x="1283" y="231" width="1" height="27" fill="#000" />
<rect x="1281" y="236" width="5" height="20" fill="#000" />
<rect x="1282" y="237" width="3" height="18" fill="#fff" />
<rect x="1291" y="221" width="1" height="23" fill="#000" />
<rect x="1289" y="221" width="5" height="14" fill="#000" />
<rect x="1299" y="231" width="1" height="25" fill="#000" />
<rect x="1297" y="238" width="5" height="7" fill="#000" />
<rect x="1307" y="205" width="1" height="33" fill="#000" />
<rect x="1305" y="210" width="5" height="26" fill="#000" />
<rect x="1306" y="211" width="3" height="24" fill="#fff" />
<rect x="1315" y="228" width="1" height="25" fill="#000" />
<rect x="1313" y="231" width="5" height="21" fill="#000" />
<rect x="1323" y="299" width="1" height="29" fill="#000" />
<rect x="1321" y="307" width="5" height="19" fill="#000" />
<rect x="1331" y="280" width="1" height="36" fill="#000" />
<rect x="1329" y="288" width="5" height="18" fill="#000" />
<rect x="1330" y="289" width="3" height="16" fill="#fff" />
<rect x="1339" y="286" width="1" height="24" fill="#000" />
<rect x="1337" y="288" width="5" height="20" fill="#000" />
<rect x="1347" y="335" width="1" height="42" fill="#000" />
<rect x="1345" y="336" width="5" height="38" fill="#000" />
<rect x="1355" y="367" width="1" height="128" fill="#000" />
<rect x="1353" y="385" width="5" height="86" fill="#000" />
<rect x="1354" y="386" width="3" height="84" fill="#fff" />
<rect x="1363" y="406" width="1" height="55" fill="#000" />
<rect x="1361" y="436" width="5" height="22" fill="#000" />
<rect x="1371" y="415" width="1" height="52" fill="#000" />
<rect x="1369" y="438" width="5" height="16" fill="#000" />
<rect x="1370" y="439" width="3" height="14" fill="#fff" />
<rect x="1379" y="416" width="1" height="85" fill="#000" />
<rect x="1377" y="462" width="5" height="39" fill="#000" />
<rect x="1387" y="491" width="1" height="76" fill="#000" />
<rect x="1385" y="501" width="5" height="11" fill="#000" />
</g>
<g shape-rendering="crispEdges">
<rect x="0" y="417" width="1599" height="1" fill="#ff0000" />
<rect x="0" y="451" width="1599" height="1" fill="#ff0000" />
<rect x="0" y="483" width="1599" height="1" fill="#32cd32" />
<rect x="0" y="511" width="1604" height="1" fill="#c0c0c0" />
<rect x="0" y="537" width="1599" height="1" fill="#0000ff" />
<rect x="0" y="563" width="1599" height="1" fill="#0000ff" />
</g>
<rect x="1331" y="478" width="77" height="13" fill="#00ef00" shape-rendering="crispEdges"/>
<line x1="1303.3" y1="209" x2="1394.2" y2="569" stroke="#ff0000" stroke-width="2.9"/>
<polygon points="1395.9,577.2 1387.8,566.6 1398.4,564.4" fill="#ff0000"/>
<g shape-rendering="crispEdges">
<rect x="3" y="615" width="1" height="16" fill="#c0c0c0" />
<rect x="11" y="615" width="1" height="16" fill="#c0c0c0" />
<rect x="19" y="615" width="1" height="16" fill="#c0c0c0" />
<rect x="27" y="615" width="1" height="16" fill="#c0c0c0" />
<rect x="35" y="615" width="1" height="16" fill="#c0c0c0" />
<rect x="43" y="616" width="1" height="15" fill="#c0c0c0" />
<rect x="51" y="615" width="1" height="16" fill="#c0c0c0" />
<rect x="59" y="617" width="1" height="14" fill="#c0c0c0" />
<rect x="67" y="618" width="1" height="13" fill="#c0c0c0" />
<rect x="75" y="618" width="1" height="13" fill="#c0c0c0" />
<rect x="83" y="620" width="1" height="11" fill="#c0c0c0" />
<rect x="91" y="622" width="1" height="9" fill="#c0c0c0" />
<rect x="99" y="625" width="1" height="6" fill="#c0c0c0" />
<rect x="107" y="628" width="1" height="3" fill="#c0c0c0" />
<rect x="115" y="630" width="1" height="1" fill="#c0c0c0" />
<rect x="123" y="630" width="1" height="7" fill="#c0c0c0" />
<rect x="131" y="630" width="1" height="15" fill="#c0c0c0" />
<rect x="139" y="630" width="1" height="29" fill="#c0c0c0" />
<rect x="147" y="630" width="1" height="39" fill="#c0c0c0" />
<rect x="155" y="630" width="1" height="46" fill="#c0c0c0" />
<rect x="163" y="630" width="1" height="51" fill="#c0c0c0" />
<rect x="171" y="630" width="1" height="55" fill="#c0c0c0" />
<rect x="179" y="630" width="1" height="60" fill="#c0c0c0" />
<rect x="187" y="630" width="1" height="66" fill="#c0c0c0" />
<rect x="195" y="630" width="1" height="70" fill="#c0c0c0" />
<rect x="203" y="630" width="1" height="70" fill="#c0c0c0" />
<rect x="211" y="630" width="1" height="68" fill="#c0c0c0" />
<rect x="219" y="630" width="1" height="62" fill="#c0c0c0" />
<rect x="227" y="630" width="1" height="56" fill="#c0c0c0" />
<rect x="235" y="630" width="1" height="51" fill="#c0c0c0" />
<rect x="243" y="630" width="1" height="48" fill="#c0c0c0" />
<rect x="251" y="630" width="1" height="45" fill="#c0c0c0" />
<rect x="259" y="630" width="1" height="44" fill="#c0c0c0" />
<rect x="267" y="630" width="1" height="43" fill="#c0c0c0" />
<rect x="275" y="630" width="1" height="43" fill="#c0c0c0" />
<rect x="283" y="630" width="1" height="42" fill="#c0c0c0" />
<rect x="291" y="630" width="1" height="41" fill="#c0c0c0" />
<rect x="299" y="630" width="1" height="40" fill="#c0c0c0" />
<rect x="307" y="630" width="1" height="39" fill="#c0c0c0" />
<rect x="315" y="630" width="1" height="31" fill="#c0c0c0" />
<rect x="323" y="630" width="1" height="24" fill="#c0c0c0" />
<rect x="331" y="630" width="1" height="18" fill="#c0c0c0" />
<rect x="339" y="630" width="1" height="12" fill="#c0c0c0" />
<rect x="347" y="630" width="1" height="8" fill="#c0c0c0" />
<rect x="355" y="630" width="1" height="1" fill="#c0c0c0" />
<rect x="363" y="627" width="1" height="4" fill="#c0c0c0" />
<rect x="371" y="621" width="1" height="10" fill="#c0c0c0" />
<rect x="379" y="618" width="1" height="13" fill="#c0c0c0" />
<rect x="387" y="619" width="1" height="12" fill="#c0c0c0" />
<rect x="395" y="619" width="1" height="12" fill="#c0c0c0" />
<rect x="403" y="621" width="1" height="10" fill="#c0c0c0" />
<rect x="411" y="624" width="1" height="7" fill="#c0c0c0" />
<rect x="419" y="628" width="1" height="3" fill="#c0c0c0" />
<rect x="427" y="630" width="1" height="1" fill="#c0c0c0" />
<rect x="435" y="630" width="1" height="3" fill="#c0c0c0" />
<rect x="443" y="630" width="1" height="6" fill="#c0c0c0" />
<rect x="451" y="630" width="1" height="8" fill="#c0c0c0" />
<rect x="459" y="630" width="1" height="9" fill="#c0c0c0" />
<rect x="467" y="630" width="1" height="11" fill="#c0c0c0" />
<rect x="475" y="630" width="1" height="10" fill="#c0c0c0" />
<rect x="483" y="630" width="1" height="13" fill="#c0c0c0" />
<rect x="491" y="630" width="1" height="14" fill="#c0c0c0" />
<rect x="499" y="630" width="1" height="16" fill="#c0c0c0" />
<rect x="507" y="630" width="1" height="16" fill="#c0c0c0" />
<rect x="515" y="630" width="1" height="12" fill="#c0c0c0" />
<rect x="523" y="630" width="1" height="8" fill="#c0c0c0" />
<rect x="531" y="630" width="1" height="5" fill="#c0c0c0" />
<rect x="539" y="630" width="1" height="1" fill="#c0c0c0" />
<rect x="547" y="628" width="1" height="3" fill="#c0c0c0" />
<rect x="555" y="626" width="1" height="5" fill="#c0c0c0" />
<rect x="563" y="624" width="1" height="7" fill="#c0c0c0" />
<rect x="571" y="622" width="1" height="9" fill="#c0c0c0" />
<rect x="579" y="622" width="1" height="9" fill="#c0c0c0" />
<rect x="587" y="621" width="1" height="10" fill="#c0c0c0" />
<rect x="595" y="621" width="1" height="10" fill="#c0c0c0" />
<rect x="603" y="619" width="1" height="12" fill="#c0c0c0" />
<rect x="611" y="619" width="1" height="12" fill="#c0c0c0" />
<rect x="619" y="620" width="1" height="11" fill="#c0c0c0" />
<rect x="627" y="618" width="1" height="13" fill="#c0c0c0" />
<rect x="635" y="616" width="1" height="15" fill="#c0c0c0" />
<rect x="643" y="611" width="1" height="20" fill="#c0c0c0" />
<rect x="651" y="607" width="1" height="24" fill="#c0c0c0" />
<rect x="659" y="604" width="1" height="27" fill="#c0c0c0" />
<rect x="667" y="601" width="1" height="30" fill="#c0c0c0" />
<rect x="675" y="600" width="1" height="31" fill="#c0c0c0" />
<rect x="683" y="604" width="1" height="27" fill="#c0c0c0" />
<rect x="691" y="608" width="1" height="23" fill="#c0c0c0" />
<rect x="699" y="615" width="1" height="16" fill="#c0c0c0" />
<rect x="707" y="622" width="1" height="9" fill="#c0c0c0" />
<rect x="715" y="628" width="1" height="3" fill="#c0c0c0" />
<rect x="723" y="629" width="1" height="2" fill="#c0c0c0" />
<rect x="731" y="628" width="1" height="3" fill="#c0c0c0" />
<rect x="739" y="628" width="1" height="3" fill="#c0c0c0" />
<rect x="747" y="630" width="1" height="1" fill="#c0c0c0" />
<rect x="755" y="630" width="1" height="2" fill="#c0c0c0" />
<rect x="763" y="630" width="1" height="1" fill="#c0c0c0" />
<rect x="771" y="629" width="1" height="2" fill="#c0c0c0" />
<rect x="779" y="629" width="1" height="2" fill="#c0c0c0" />
<rect x="787" y="630" width="1" height="1" fill="#c0c0c0" />
<rect x="795" y="630" width="1" height="2" fill="#c0c0c0" />
<rect x="803" y="630" width="1" height="4" fill="#c0c0c0" />
<rect x="811" y="630" width="1" height="6" fill="#c0c0c0" />
<rect x="819" y="630" width="1" height="10" fill="#c0c0c0" />
<rect x="827" y="630" width="1" height="12" fill="#c0c0c0" />
<rect x="835" y="630" width="1" height="11" fill="#c0c0c0" />
<rect x="843" y="630" width="1" height="10" fill="#c0c0c0" />
<rect x="851" y="630" width="1" height="10" fill="#c0c0c0" />
<rect x="859" y="630" width="1" height="8" fill="#c0c0c0" />
<rect x="867" y="630" width="1" height="5" fill="#c0c0c0" />
<rect x="875" y="628" width="1" height="3" fill="#c0c0c0" />
<rect x="883" y="622" width="1" height="9" fill="#c0c0c0" />
<rect x="891" y="616" width="1" height="15" fill="#c0c0c0" />
<rect x="899" y="611" width="1" height="20" fill="#c0c0c0" />
<rect x="907" y="608" width="1" height="23" fill="#c0c0c0" />
<rect x="915" y="605" width="1" height="26" fill="#c0c0c0" />
<rect x="923" y="603" width="1" height="28" fill="#c0c0c0" />
<rect x="931" y="602" width="1" height="29" fill="#c0c0c0" />
<rect x="939" y="599" width="1" height="32" fill="#c0c0c0" />
<rect x="947" y="595" width="1" height="36" fill="#c0c0c0" />
<rect x="955" y="594" width="1" height="37" fill="#c0c0c0" />
<rect x="963" y="592" width="1" height="39" fill="#c0c0c0" />
<rect x="971" y="591" width="1" height="40" fill="#c0c0c0" />
<rect x="979" y="593" width="1" height="38" fill="#c0c0c0" />
<rect x="987" y="594" width="1" height="37" fill="#c0c0c0" />
<rect x="995" y="597" width="1" height="34" fill="#c0c0c0" />
<rect x="1003" y="596" width="1" height="35" fill="#c0c0c0" />
<rect x="1011" y="595" width="1" height="36" fill="#c0c0c0" />
<rect x="1019" y="593" width="1" height="38" fill="#c0c0c0" />
<rect x="1027" y="592" width="1" height="39" fill="#c0c0c0" />
<rect x="1035" y="593" width="1" height="38" fill="#c0c0c0" />
<rect x="1043" y="593" width="1" height="38" fill="#c0c0c0" />
<rect x="1051" y="592" width="1" height="39" fill="#c0c0c0" />
<rect x="1059" y="593" width="1" height="38" fill="#c0c0c0" />
<rect x="1067" y="602" width="1" height="29" fill="#c0c0c0" />
<rect x="1075" y="606" width="1" height="25" fill="#c0c0c0" />
<rect x="1083" y="613" width="1" height="18" fill="#c0c0c0" />
<rect x="1091" y="618" width="1" height="13" fill="#c0c0c0" />
<rect x="1099" y="627" width="1" height="4" fill="#c0c0c0" />
<rect x="1107" y="630" width="1" height="9" fill="#c0c0c0" />
<rect x="1115" y="630" width="1" height="20" fill="#c0c0c0" />
<rect x="1123" y="630" width="1" height="29" fill="#c0c0c0" />
<rect x="1131" y="630" width="1" height="31" fill="#c0c0c0" />
<rect x="1139" y="630" width="1" height="33" fill="#c0c0c0" />
<rect x="1147" y="630" width="1" height="29" fill="#c0c0c0" />
<rect x="1155" y="630" width="1" height="27" fill="#c0c0c0" />
<rect x="1163" y="630" width="1" height="25" fill="#c0c0c0" />
<rect x="1171" y="630" width="1" height="20" fill="#c0c0c0" />
<rect x="1179" y="630" width="1" height="16" fill="#c0c0c0" />
<rect x="1187" y="630" width="1" height="13" fill="#c0c0c0" />
<rect x="1195" y="630" width="1" height="9" fill="#c0c0c0" />
<rect x="1203" y="630" width="1" height="6" fill="#c0c0c0" />
<rect x="1211" y="630" width="1" height="6" fill="#c0c0c0" />
<rect x="1219" y="630" width="1" height="5" fill="#c0c0c0" />
<rect x="1227" y="630" width="1" height="5" fill="#c0c0c0" />
<rect x="1235" y="630" width="1" height="7" fill="#c0c0c0" />
<rect x="1243" y="630" width="1" height="12" fill="#c0c0c0" />
<rect x="1251" y="630" width="1" height="15" fill="#c0c0c0" />
<rect x="1259" y="630" width="1" height="19" fill="#c0c0c0" />
<rect x="1267" y="630" width="1" height="21" fill="#c0c0c0" />
<rect x="1275" y="630" width="1" height="26" fill="#c0c0c0" />
<rect x="1283" y="630" width="1" height="29" fill="#c0c0c0" />
<rect x="1291" y="630" width="1" height="30" fill="#c0c0c0" />
<rect x="1299" y="630" width="1" height="32" fill="#c0c0c0" />
<rect x="1307" y="630" width="1" height="30" fill="#c0c0c0" />
<rect x="1315" y="630" width="1" height="32" fill="#c0c0c0" />
<rect x="1323" y="630" width="1" height="42" fill="#c0c0c0" />
<rect x="1331" y="630" width="1" height="45" fill="#c0c0c0" />
<rect x="1339" y="630" width="1" height="49" fill="#c0c0c0" />
<rect x="1347" y="630" width="1" height="59" fill="#c0c0c0" />
<rect x="1355" y="630" width="1" height="68" fill="#c0c0c0" />
<rect x="1363" y="630" width="1" height="82" fill="#c0c0c0" />
<rect x="1371" y="630" width="1" height="90" fill="#c0c0c0" />
<rect x="1379" y="630" width="1" height="103" fill="#c0c0c0" />
<rect x="1387" y="630" width="1" height="113" fill="#c0c0c0" />
</g>
<polyline points="0.0,609.4 28.2,610.0 39.5,612.8 50.8,614.3 75.3,615.3 94.2,616.6 105.5,619.4 118.6,621.7 129.9,626.0 141.2,632.6 150.7,640.1 162.0,648.6 173.3,659.0 184.6,668.4 195.9,678.8 207.2,685.7 218.5,691.0 229.8,692.5 242.9,691.6 254.2,689.1 267.4,684.4 278.7,679.7 289.4,676.5 302.6,674.0 319.5,670.7 332.7,665.2 344.0,659.9 362.9,650.1 374.2,641.1 385.5,633.9 396.8,628.8 411.8,622.8 428.8,622.4 440.1,623.8 453.3,627.3 466.4,632.0 477.7,634.5 489.0,637.3 500.3,640.5 517.3,642.4 532.4,642.4 543.7,639.8 555.0,637.3 571.3,632.6 584.5,627.9 597.7,624.7 610.8,621.7 625.9,620.7 637.2,619.1 648.5,616.6 661.7,613.4 674.9,610.4 688.1,607.6 699.4,606.2 710.7,608.1 722.0,611.0 735.1,615.7 746.4,620.9 757.7,625.1 769.0,627.3 778.5,629.4 795.4,629.4 808.6,631.3 823.7,633.2 836.8,634.1 849.4,637.7 866.4,639.2 883.3,636.8 896.5,631.7 907.8,626.0 921.0,619.4 932.3,613.8 943.6,608.1 956.8,603.4 971.8,597.8 986.9,595.5 1000.1,593.6 1020.8,593.6 1028.3,592.5 1035.9,593.6 1075.4,594.0 1082.9,596.3 1094.2,600.6 1107.4,608.1 1118.7,618.1 1123.4,622.3 1135.1,632.6 1148.2,644.3 1165.2,653.7 1178.4,656.2 1195.3,653.9 1208.5,648.2 1225.5,642.6 1242.4,639.6 1259.4,639.6 1270.7,642.0 1291.4,647.3 1304.6,653.3 1323.4,659.4 1338.5,664.6 1353.5,672.2 1364.8,680.6 1376.1,690.6 1387.0,701.7" fill="none" stroke="#ff0000" stroke-width="1" stroke-dasharray="3 2" shape-rendering="crispEdges"/>
<g shape-rendering="crispEdges">
<line x1="2" y1="789.5" x2="1604" y2="789.5" stroke="#c0c0c0" stroke-width="1" stroke-dasharray="3 3"/>
<line x1="2" y1="840.5" x2="1604" y2="840.5" stroke="#c0c0c0" stroke-width="1" stroke-dasharray="3 3"/>
<line x1="2" y1="901.5" x2="1604" y2="901.5" stroke="#c0c0c0" stroke-width="1" stroke-dasharray="3 3"/>
</g>
<polyline points="-1.0,836.5 3.5,832.6 11.5,830.2 19.5,830.2 27.5,827.3 35.5,828.3 43.5,836.4 51.5,823.2 59.5,839.6 67.5,837.1 75.5,834.3 83.5,833.4 91.5,842.4 99.5,850.3 107.5,849.4 115.5,858.4 123.5,866.9 131.5,879.1 139.5,889.5 147.5,889.5 155.5,889.5 163.5,886.3 171.5,888.2 179.5,892.3 187.5,896.4 195.5,895.5 203.5,885.3 211.5,875.9 219.5,857.5 227.5,856.1 235.5,855.2 243.5,862.2 251.5,856.1 259.5,866.3 267.5,866.3 275.5,868.4 283.5,864.4 291.5,865.4 299.5,867.3 307.5,868.4 315.5,833.4 323.5,834.3 331.5,830.5 339.5,829.2 347.5,829.2 355.5,817.3 363.5,818.3 371.5,813.2 379.5,824.1 387.5,834.3 395.5,834.3 403.5,843.3 411.5,844.3 419.5,853.3 427.5,847.5 435.5,858.0 443.5,854.3 451.5,854.3 459.5,852.4 467.5,855.6 475.5,847.5 483.5,858.4 491.5,855.2 499.5,860.3 507.5,854.6 515.5,833.9 523.5,830.2 531.5,832.4 539.5,828.3 547.5,821.3 555.5,829.2 563.5,828.3 571.5,826.4 579.5,836.4 587.5,829.2 595.5,831.5 603.5,825.4 611.5,831.5 619.5,836.4 627.5,825.1 635.5,820.4 643.5,810.0 651.5,808.1 659.5,807.2 667.5,805.3 675.5,812.3 683.5,838.3 691.5,839.6 699.5,852.8 707.5,857.1 715.5,859.3 723.5,844.3 731.5,834.3 739.5,841.5 747.5,850.3 755.5,845.2 763.5,835.2 771.5,836.4 779.5,835.2 787.5,839.2 795.5,853.3 803.5,849.4 811.5,851.2 819.5,859.3 827.5,853.3 835.5,845.2 843.5,845.2 851.5,847.5 859.5,840.5 867.5,830.2 875.5,815.1 883.5,819.2 891.5,814.1 899.5,813.2 907.5,817.3 915.5,814.1 923.5,817.3 931.5,815.5 939.5,807.6 947.5,806.2 955.5,811.3 963.5,805.3 971.5,812.3 979.5,822.2 987.5,818.3 995.5,829.2 1003.5,817.3 1011.5,816.4 1019.5,810.4 1027.5,816.4 1035.5,818.3 1043.5,815.5 1051.5,811.3 1059.5,825.4 1067.5,847.5 1075.5,838.3 1083.5,848.4 1091.5,847.5 1099.5,862.2 1107.5,872.2 1115.5,873.5 1123.5,874.4 1131.5,858.4 1139.5,859.3 1147.5,844.3 1155.5,846.2 1163.5,850.3 1171.5,838.6 1179.5,835.2 1187.5,838.3 1195.5,836.4 1203.5,834.3 1211.5,844.3 1219.5,840.1 1227.5,844.3 1235.5,849.4 1243.5,860.3 1251.5,857.5 1259.5,861.2 1267.5,857.5 1275.5,867.3 1283.5,863.5 1291.5,862.5 1299.5,865.4 1307.5,848.4 1315.5,862.2 1323.5,877.2 1331.5,863.5 1339.5,867.3 1347.5,878.2 1355.5,879.7 1363.5,888.2 1371.5,882.5 1379.5,888.2 1387.5,889.5" fill="none" stroke="#1e90ff" stroke-width="1.0" shape-rendering="crispEdges"/>
<g shape-rendering="crispEdges">
<rect x="1605" y="48" width="2" height="1" fill="#000" />
<rect x="1605" y="81" width="2" height="1" fill="#000" />
<rect x="1605" y="114" width="2" height="1" fill="#000" />
<rect x="1605" y="147" width="2" height="1" fill="#000" />
<rect x="1605" y="180" width="2" height="1" fill="#000" />
<rect x="1605" y="213" width="2" height="1" fill="#000" />
<rect x="1605" y="246" width="2" height="1" fill="#000" />
<rect x="1605" y="279" width="2" height="1" fill="#000" />
<rect x="1605" y="312" width="2" height="1" fill="#000" />
<rect x="1605" y="345" width="2" height="1" fill="#000" />
<rect x="1605" y="378" width="2" height="1" fill="#000" />
<rect x="1605" y="411" width="2" height="1" fill="#000" />
<rect x="1605" y="444" width="2" height="1" fill="#000" />
<rect x="1605" y="477" width="2" height="1" fill="#000" />
<rect x="1605" y="510" width="2" height="1" fill="#000" />
<rect x="1605" y="543" width="2" height="1" fill="#000" />
<rect x="1605" y="576" width="2" height="1" fill="#000" />
</g>
<text x="1610" y="52" font-size="10" fill="#000" textLength="32.8" lengthAdjust="spacingAndGlyphs" >29298.0</text>
<text x="1610" y="85" font-size="10" fill="#000" textLength="32.8" lengthAdjust="spacingAndGlyphs" >28770.0</text>
<text x="1610" y="118" font-size="10" fill="#000" textLength="32.8" lengthAdjust="spacingAndGlyphs" >28242.0</text>
<text x="1610" y="151" font-size="10" fill="#000" textLength="32.8" lengthAdjust="spacingAndGlyphs" >27698.0</text>
<text x="1610" y="184" font-size="10" fill="#000" textLength="32.8" lengthAdjust="spacingAndGlyphs" >27170.0</text>
<text x="1610" y="217" font-size="10" fill="#000" textLength="32.8" lengthAdjust="spacingAndGlyphs" >26642.0</text>
<text x="1610" y="250" font-size="10" fill="#000" textLength="32.8" lengthAdjust="spacingAndGlyphs" >26114.0</text>
<text x="1610" y="283" font-size="10" fill="#000" textLength="32.8" lengthAdjust="spacingAndGlyphs" >25570.0</text>
<text x="1610" y="316" font-size="10" fill="#000" textLength="32.8" lengthAdjust="spacingAndGlyphs" >25042.0</text>
<text x="1610" y="349" font-size="10" fill="#000" textLength="32.8" lengthAdjust="spacingAndGlyphs" >24514.0</text>
<text x="1610" y="382" font-size="10" fill="#000" textLength="32.8" lengthAdjust="spacingAndGlyphs" >23986.0</text>
<text x="1610" y="415" font-size="10" fill="#000" textLength="32.8" lengthAdjust="spacingAndGlyphs" >23458.0</text>
<text x="1610" y="448" font-size="10" fill="#000" textLength="32.8" lengthAdjust="spacingAndGlyphs" >22914.0</text>
<text x="1610" y="481" font-size="10" fill="#000" textLength="32.8" lengthAdjust="spacingAndGlyphs" >22386.0</text>
<text x="1610" y="514" font-size="10" fill="#000" textLength="32.8" lengthAdjust="spacingAndGlyphs" >21858.0</text>
<text x="1610" y="547" font-size="10" fill="#000" textLength="32.8" lengthAdjust="spacingAndGlyphs" >21330.0</text>
<text x="1610" y="580" font-size="10" fill="#000" textLength="32.8" lengthAdjust="spacingAndGlyphs" >20802.0</text>
<rect x="1606.3" y="411.1" width="40.7" height="10.7" fill="#ff0000" />
<text x="1610.2" y="420.1" font-size="10" fill="#fff" textLength="32.6" lengthAdjust="spacingAndGlyphs" stroke="#fff" stroke-width="0.25">23358.3</text>
<rect x="1599.5" y="415.5" width="4" height="4" fill="#fff" stroke="#ff0000" stroke-width="1" shape-rendering="crispEdges"/>
<rect x="1606.3" y="445.1" width="40.7" height="10.7" fill="#ff0000" />
<text x="1610.2" y="454.1" font-size="10" fill="#fff" textLength="32.6" lengthAdjust="spacingAndGlyphs" stroke="#fff" stroke-width="0.25">22811.7</text>
<rect x="1599.5" y="449.5" width="4" height="4" fill="#fff" stroke="#ff0000" stroke-width="1" shape-rendering="crispEdges"/>
<rect x="1606.3" y="477.1" width="40.7" height="10.7" fill="#3cc83c" />
<text x="1610.2" y="486.1" font-size="10" fill="#fff" textLength="32.6" lengthAdjust="spacingAndGlyphs" stroke="#fff" stroke-width="0.25">22297.3</text>
<rect x="1599.5" y="481.5" width="4" height="4" fill="#fff" stroke="#32cd32" stroke-width="1" shape-rendering="crispEdges"/>
<rect x="1606.3" y="505.1" width="40.7" height="10.7" fill="#000000" />
<text x="1610.2" y="514.1" font-size="10" fill="#fff" textLength="32.6" lengthAdjust="spacingAndGlyphs" stroke="#fff" stroke-width="0.25">21837.0</text>
<rect x="1606.3" y="531.1" width="40.7" height="10.7" fill="#0000ff" />
<text x="1610.2" y="540.1" font-size="10" fill="#fff" textLength="32.6" lengthAdjust="spacingAndGlyphs" stroke="#fff" stroke-width="0.25">21429.2</text>
<rect x="1599.5" y="535.5" width="4" height="4" fill="#fff" stroke="#0000ff" stroke-width="1" shape-rendering="crispEdges"/>
<rect x="1606.3" y="557.1" width="40.7" height="10.7" fill="#0000ff" />
<text x="1610.2" y="566.1" font-size="10" fill="#fff" textLength="32.6" lengthAdjust="spacingAndGlyphs" stroke="#fff" stroke-width="0.25">21011.2</text>
<rect x="1599.5" y="561.5" width="4" height="4" fill="#fff" stroke="#0000ff" stroke-width="1" shape-rendering="crispEdges"/>
<g shape-rendering="crispEdges">
<rect x="1605" y="630" width="2" height="1" fill="#000" />
</g>
<text x="1608.2" y="592" font-size="10" fill="#000" textLength="27.4" lengthAdjust="spacingAndGlyphs" >532.92</text>
<text x="1608.2" y="633.8" font-size="10" fill="#000" textLength="17.4" lengthAdjust="spacingAndGlyphs" >0.00</text>
<text x="1608.2" y="748" font-size="10" fill="#000" textLength="30.8" lengthAdjust="spacingAndGlyphs" >-1343.9</text>
<g shape-rendering="crispEdges">
<rect x="1605" y="789" width="2" height="1" fill="#000" />
<rect x="1605" y="840" width="2" height="1" fill="#000" />
<rect x="1605" y="901" width="2" height="1" fill="#000" />
</g>
<text x="1608.4" y="764" font-size="10" fill="#000" textLength="14.6" lengthAdjust="spacingAndGlyphs" >100</text>
<text x="1607.4" y="792.9" font-size="10" fill="#000" textLength="9.8" lengthAdjust="spacingAndGlyphs" >80</text>
<text x="1607.4" y="843.9" font-size="10" fill="#000" textLength="9.8" lengthAdjust="spacingAndGlyphs" >50</text>
<text x="1607.8" y="904.9" font-size="10" fill="#000" textLength="9.6" lengthAdjust="spacingAndGlyphs" >15</text>
<text x="1607.6" y="924" font-size="10" fill="#000" textLength="4.8" lengthAdjust="spacingAndGlyphs" >0</text>
<text x="0" y="594" font-size="10" fill="#000" textLength="138" lengthAdjust="spacingAndGlyphs" >MACD(12,26,9) -1258.59 -806.14</text>
<text x="0" y="766" font-size="10" fill="#000" textLength="67" lengthAdjust="spacingAndGlyphs" >RSI(14) 21.6414</text>
<g shape-rendering="crispEdges">
<rect x="59" y="928" width="1" height="2" fill="#000" />
<rect x="123" y="928" width="1" height="2" fill="#000" />
<rect x="187" y="928" width="1" height="2" fill="#000" />
<rect x="251" y="928" width="1" height="2" fill="#000" />
<rect x="315" y="928" width="1" height="2" fill="#000" />
<rect x="379" y="928" width="1" height="2" fill="#000" />
<rect x="443" y="928" width="1" height="2" fill="#000" />
<rect x="507" y="928" width="1" height="2" fill="#000" />
<rect x="571" y="928" width="1" height="2" fill="#000" />
<rect x="635" y="928" width="1" height="2" fill="#000" />
<rect x="699" y="928" width="1" height="2" fill="#000" />
<rect x="763" y="928" width="1" height="2" fill="#000" />
<rect x="827" y="928" width="1" height="2" fill="#000" />
<rect x="891" y="928" width="1" height="2" fill="#000" />
<rect x="955" y="928" width="1" height="2" fill="#000" />
<rect x="1019" y="928" width="1" height="2" fill="#000" />
<rect x="1083" y="928" width="1" height="2" fill="#000" />
<rect x="1147" y="928" width="1" height="2" fill="#000" />
<rect x="1211" y="928" width="1" height="2" fill="#000" />
<rect x="1275" y="928" width="1" height="2" fill="#000" />
<rect x="1339" y="928" width="1" height="2" fill="#000" />
</g>
<text x="-6.0" y="940.4" font-size="10" fill="#000" textLength="47.7" lengthAdjust="spacingAndGlyphs" >10 Jul 2019</text>
<text x="58.0" y="940.4" font-size="10" fill="#000" textLength="47.7" lengthAdjust="spacingAndGlyphs" >22 Jul 2019</text>
<text x="122.0" y="940.4" font-size="10" fill="#000" textLength="47.3" lengthAdjust="spacingAndGlyphs" >1 Aug 2019</text>
<text x="186.0" y="940.4" font-size="10" fill="#000" textLength="52.4" lengthAdjust="spacingAndGlyphs" >13 Aug 2019</text>
<text x="250.0" y="940.4" font-size="10" fill="#000" textLength="52.4" lengthAdjust="spacingAndGlyphs" >23 Aug 2019</text>
<text x="314.0" y="940.4" font-size="10" fill="#000" textLength="46.7" lengthAdjust="spacingAndGlyphs" >4 Sep 2019</text>
<text x="378.0" y="940.4" font-size="10" fill="#000" textLength="51.8" lengthAdjust="spacingAndGlyphs" >16 Sep 2019</text>
<text x="442.0" y="940.4" font-size="10" fill="#000" textLength="51.8" lengthAdjust="spacingAndGlyphs" >26 Sep 2019</text>
<text x="506.0" y="940.4" font-size="10" fill="#000" textLength="50.5" lengthAdjust="spacingAndGlyphs" >10 Oct 2019</text>
<text x="570.0" y="940.4" font-size="10" fill="#000" textLength="50.5" lengthAdjust="spacingAndGlyphs" >22 Oct 2019</text>
<text x="634.0" y="940.4" font-size="10" fill="#000" textLength="47.3" lengthAdjust="spacingAndGlyphs" >1 Nov 2019</text>
<text x="698.0" y="940.4" font-size="10" fill="#000" textLength="52.4" lengthAdjust="spacingAndGlyphs" >13 Nov 2019</text>
<text x="762.0" y="940.4" font-size="10" fill="#000" textLength="52.4" lengthAdjust="spacingAndGlyphs" >25 Nov 2019</text>
<text x="826.0" y="940.4" font-size="10" fill="#000" textLength="47.0" lengthAdjust="spacingAndGlyphs" >5 Dec 2019</text>
<text x="890.0" y="940.4" font-size="10" fill="#000" textLength="52.1" lengthAdjust="spacingAndGlyphs" >17 Dec 2019</text>
<text x="954.0" y="940.4" font-size="10" fill="#000" textLength="52.1" lengthAdjust="spacingAndGlyphs" >31 Dec 2019</text>
<text x="1018.0" y="940.4" font-size="10" fill="#000" textLength="50.5" lengthAdjust="spacingAndGlyphs" >13 Jan 2020</text>
<text x="1082.0" y="940.4" font-size="10" fill="#000" textLength="50.5" lengthAdjust="spacingAndGlyphs" >23 Jan 2020</text>
<text x="1146.0" y="940.4" font-size="10" fill="#000" textLength="46.3" lengthAdjust="spacingAndGlyphs" >6 Feb 2020</text>
<text x="1210.0" y="940.4" font-size="10" fill="#000" textLength="51.4" lengthAdjust="spacingAndGlyphs" >18 Feb 2020</text>
<text x="1274.0" y="940.4" font-size="10" fill="#000" textLength="51.4" lengthAdjust="spacingAndGlyphs" >28 Feb 2020</text>
<text x="1338.0" y="940.4" font-size="10" fill="#000" textLength="51.9" lengthAdjust="spacingAndGlyphs" >11 Mar 2020</text>
<text x="1426.6" y="432" font-size="33.5" fill="#002800" textLength="164" lengthAdjust="spacingAndGlyphs" font-family="'Liberation Sans', 'Noto Sans CJK SC', sans-serif">多空转折点</text>
<text x="1425.6" y="431" font-size="33.5" fill="#00f000" textLength="164" lengthAdjust="spacingAndGlyphs" font-family="'Liberation Sans', 'Noto Sans CJK SC', sans-serif">多空转折点</text>
<g shape-rendering="crispEdges">
<rect x="1476" y="483" width="8" height="1" fill="#ff0000" />
<rect x="1483.5" y="481.5" width="3" height="3" fill="#fff" stroke="#ff0000" stroke-width="1"/>
<rect x="1486.5" y="471.5" width="73" height="24" fill="#fff" stroke="#ff0000" stroke-width="1"/>
</g>
<text x="1488.3" y="491.3" font-size="21.2" fill="#ff0000" textLength="69.4" lengthAdjust="spacingAndGlyphs" >22297.3</text>
<polygon points="1389,27 1399,27 1394,32" fill="#b8b8b8"/>
<polygon points="0,36.5 5,36.5 2.5,33.3" fill="#000"/>
<text x="10.2" y="37.6" font-size="10" fill="#000" textLength="49.8" lengthAdjust="spacingAndGlyphs" >HK50-,Daily</text>
<text x="67.5" y="37.6" font-size="10" fill="#000" textLength="32.3" lengthAdjust="spacingAndGlyphs" >21999.0</text>
<text x="103.6" y="37.6" font-size="10" fill="#000" textLength="32.3" lengthAdjust="spacingAndGlyphs" >22348.0</text>
<text x="139.7" y="37.6" font-size="10" fill="#000" textLength="32.3" lengthAdjust="spacingAndGlyphs" >20961.0</text>
<text x="175.8" y="37.6" font-size="10" fill="#000" textLength="32.0" lengthAdjust="spacingAndGlyphs" >21837.0</text>
<rect x="0" y="46" width="217" height="64" fill="#fff" />
<rect x="0" y="46" width="50" height="25" fill="url(#gSell)" />
<rect x="165" y="46" width="52" height="25" fill="url(#gSell)" />
<rect x="0" y="70" width="107" height="40" fill="url(#gBig)" />
<rect x="109" y="70" width="108" height="40" fill="url(#gBig)" />
<rect x="2" y="69.2" width="44" height="0.9" fill="#f58a8a" />
<rect x="169" y="69.2" width="44" height="0.9" fill="#f58a8a" />
<rect x="52.5" y="46.5" width="110" height="21" fill="#fff" stroke="#9a9a9a" stroke-width="1"/>
<rect x="53.5" y="47.5" width="19" height="19" fill="url(#gBtn)" stroke="#b4b4b4" stroke-width="1"/>
<rect x="142.5" y="47.5" width="19" height="19" fill="url(#gBtn)" stroke="#b4b4b4" stroke-width="1"/>
<polygon points="60,55.5 65.2,55.5 62.6,58.5" fill="#4a5fc0"/>
<polygon points="149,58.3 154.2,58.3 151.6,55.3" fill="#4a5fc0"/>
<text x="114.5" y="60.9" font-size="12" fill="#111" textLength="23.2" lengthAdjust="spacingAndGlyphs" >1.00</text>
<text x="10" y="61.8" font-size="12" fill="#fff" textLength="25.6" lengthAdjust="spacingAndGlyphs" >SELL</text>
<text x="178.5" y="61.8" font-size="12" fill="#fff" textLength="22.6" lengthAdjust="spacingAndGlyphs" >BUY</text>
<text x="14.3" y="100.3" font-size="11.2" fill="#fff" textLength="33.8" lengthAdjust="spacingAndGlyphs" font-weight="bold" >21835</text>
<text x="124.3" y="100.3" font-size="11.2" fill="#fff" textLength="33.8" lengthAdjust="spacingAndGlyphs" font-weight="bold" >21848</text>
<text x="52.5" y="100.3" font-size="33.6" fill="#fff" textLength="7.2" lengthAdjust="spacingAndGlyphs" >.</text>
<text x="61.0" y="100.3" font-size="33.6" fill="#fff" textLength="14.4" lengthAdjust="spacingAndGlyphs" >5</text>
<text x="163.0" y="100.3" font-size="33.6" fill="#fff" textLength="7.2" lengthAdjust="spacingAndGlyphs" >.</text>
<text x="171.7" y="100.3" font-size="33.6" fill="#fff" textLength="14.4" lengthAdjust="spacingAndGlyphs" >5</text>
</svg></body></html>
